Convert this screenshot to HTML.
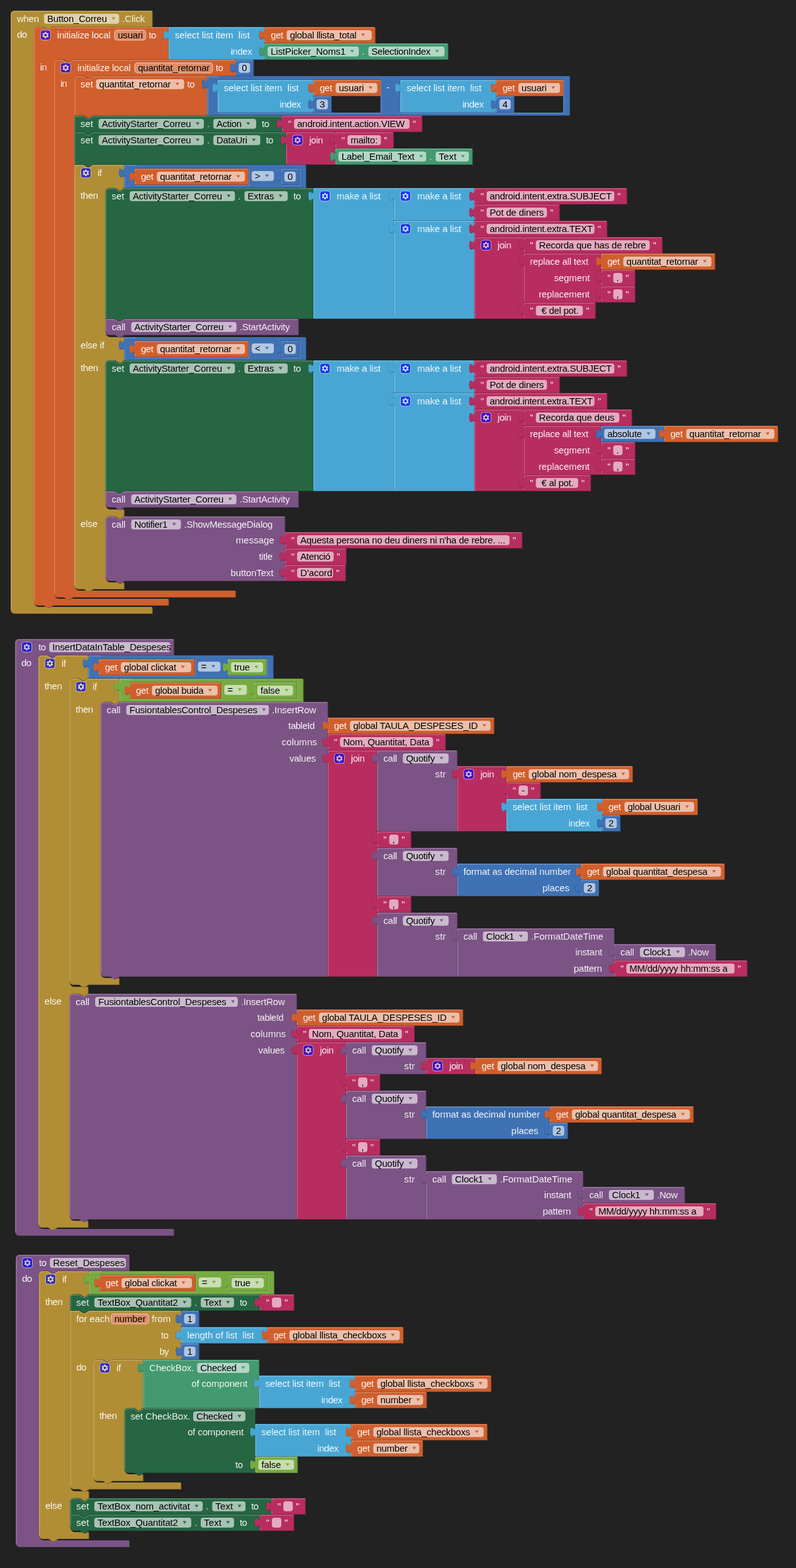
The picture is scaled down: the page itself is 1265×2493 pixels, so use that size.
<!DOCTYPE html>
<html lang="ca"><head><meta charset="utf-8"><title>Blocks</title>
<style>
html,body{margin:0;padding:0;background:#222222;}
body{width:1265px;height:2493px;overflow:hidden;}
svg{display:block;}
text{font-family:"Liberation Sans",sans-serif;font-size:15px;fill:#fff;white-space:pre;stroke-width:.15px;paint-order:fill stroke;}
text.e{fill:#000;}
.fr{fill:#fff;fill-opacity:.6;}
.fp{fill:#de8f6c;stroke:#e7af96;stroke-width:1.6px;}
.hl{fill:none;stroke-width:1;}
.ic{opacity:.68;}
.ic rect{fill:#00f;stroke:#ddd;stroke-width:1;}
.ic path{fill:#fff;fill-rule:evenodd;}
</style></head><body>
<svg width="1265" height="2493" viewBox="0 0 1265 2493">
<path transform="translate(18,18)" d="M 0,5.5 A 5.5,5.5 0 0,1 5.5,0 H 224.5 H 224.5 v 25 H 66.8 l -6,4 -3,0 -6,-4 h -7 a 8,8 0 0,0 -8,8 v 907 a 8,8 0 0,0 8,8 H 224.5 v 10 H 5.5 a 5.5,5.5 0 0,1 -5.5,-5.5 z" fill="#8d712a"/>
<path transform="translate(17,17)" d="M 0,5.5 A 5.5,5.5 0 0,1 5.5,0 H 224.5 H 224.5 v 25 H 66.8 l -6,4 -3,0 -6,-4 h -7 a 8,8 0 0,0 -8,8 v 907 a 8,8 0 0,0 8,8 H 224.5 v 10 H 5.5 a 5.5,5.5 0 0,1 -5.5,-5.5 z" fill="#B18E35" fill-rule="evenodd"/>
<path transform="translate(17,17)" d="M 1,5.5 A 4.5,4.5 0 0,1 5.5,1 H 224.5" class="hl" stroke="#c8af71"/>
<path transform="translate(17,17)" d="M 1,5.5 V 952.5" class="hl" stroke="#c8af71"/>
<path transform="translate(25,1017)" d="M 0,5.5 A 5.5,5.5 0 0,1 5.5,0 H 251.7 H 251.7 v 25 H 66.8 l -6,4 -3,0 -6,-4 h -7 a 8,8 0 0,0 -8,8 v 897 a 8,8 0 0,0 8,8 H 251.7 v 10 H 5.5 a 5.5,5.5 0 0,1 -5.5,-5.5 z" fill="#63426a"/>
<path transform="translate(24,1016)" d="M 0,5.5 A 5.5,5.5 0 0,1 5.5,0 H 251.7 H 251.7 v 25 H 66.8 l -6,4 -3,0 -6,-4 h -7 a 8,8 0 0,0 -8,8 v 897 a 8,8 0 0,0 8,8 H 251.7 v 10 H 5.5 a 5.5,5.5 0 0,1 -5.5,-5.5 z" fill="#7C5385" fill-rule="evenodd"/>
<path transform="translate(24,1016)" d="M 1,5.5 A 4.5,4.5 0 0,1 5.5,1 H 251.7" class="hl" stroke="#a386a9"/>
<path transform="translate(24,1016)" d="M 1,5.5 V 942.5" class="hl" stroke="#a386a9"/>
<path transform="translate(26.1,1996)" d="M 0,5.5 A 5.5,5.5 0 0,1 5.5,0 H 179.9 H 179.9 v 25 H 66.8 l -6,4 -3,0 -6,-4 h -7 a 8,8 0 0,0 -8,8 v 413 a 8,8 0 0,0 8,8 H 179.9 v 10 H 5.5 a 5.5,5.5 0 0,1 -5.5,-5.5 z" fill="#63426a"/>
<path transform="translate(25.1,1995)" d="M 0,5.5 A 5.5,5.5 0 0,1 5.5,0 H 179.9 H 179.9 v 25 H 66.8 l -6,4 -3,0 -6,-4 h -7 a 8,8 0 0,0 -8,8 v 413 a 8,8 0 0,0 8,8 H 179.9 v 10 H 5.5 a 5.5,5.5 0 0,1 -5.5,-5.5 z" fill="#7C5385" fill-rule="evenodd"/>
<path transform="translate(25.1,1995)" d="M 1,5.5 A 4.5,4.5 0 0,1 5.5,1 H 179.9" class="hl" stroke="#a386a9"/>
<path transform="translate(25.1,1995)" d="M 1,5.5 V 458.5" class="hl" stroke="#a386a9"/>
<path transform="translate(54.8,44)" d="M 0,5.5 A 5.5,5.5 0 0,1 5.5,0 H 15 l 6,4 3,0 6,-4 H 213.64 H 213.64 v 5 c 0,10 -8,-8 -8,7.5 s 8,-2.5 8,7.5 v 31 H 62.1 l -6,4 -3,0 -6,-4 h -7 a 8,8 0 0,0 -8,8 v 842 a 8,8 0 0,0 8,8 H 213.64 v 10 H 30 l -6,4 -3,0 -6,-4 H 5.5 a 5.5,5.5 0 0,1 -5.5,-5.5 z" fill="#a64c24"/>
<path transform="translate(53.8,43)" d="M 0,5.5 A 5.5,5.5 0 0,1 5.5,0 H 15 l 6,4 3,0 6,-4 H 213.64 H 213.64 v 5 c 0,10 -8,-8 -8,7.5 s 8,-2.5 8,7.5 v 31 H 62.1 l -6,4 -3,0 -6,-4 h -7 a 8,8 0 0,0 -8,8 v 842 a 8,8 0 0,0 8,8 H 213.64 v 10 H 30 l -6,4 -3,0 -6,-4 H 5.5 a 5.5,5.5 0 0,1 -5.5,-5.5 z" fill="#D05F2D" fill-rule="evenodd"/>
<path transform="translate(53.8,43)" d="M 1,5.5 A 4.5,4.5 0 0,1 5.5,1 H 15 l 6,4 3,0 6,-4 H 213.64" class="hl" stroke="#de8f6c"/>
<path transform="translate(53.8,43)" d="M 1,5.5 V 913.5" class="hl" stroke="#de8f6c"/>
<path transform="translate(61.8,1043)" d="M 0,5.5 A 5.5,5.5 0 0,1 5.5,0 H 15 l 6,4 3,0 6,-4 H 78.7 H 78.7 v 5 c 0,10 -8,-8 -8,7.5 s 8,-2.5 8,7.5 v 16 H 79.4 l -6,4 -3,0 -6,-4 h -7 a 8,8 0 0,0 -8,8 v 475 a 8,8 0 0,0 8,8 H 78.7 v 10 H 79.4 l -6,4 -3,0 -6,-4 h -7 a 8,8 0 0,0 -8,8 v 346 a 8,8 0 0,0 8,8 H 78.7 v 10 H 30 l -6,4 -3,0 -6,-4 H 5.5 a 5.5,5.5 0 0,1 -5.5,-5.5 z" fill="#8d712a"/>
<path transform="translate(60.8,1042)" d="M 0,5.5 A 5.5,5.5 0 0,1 5.5,0 H 15 l 6,4 3,0 6,-4 H 78.7 H 78.7 v 5 c 0,10 -8,-8 -8,7.5 s 8,-2.5 8,7.5 v 16 H 79.4 l -6,4 -3,0 -6,-4 h -7 a 8,8 0 0,0 -8,8 v 475 a 8,8 0 0,0 8,8 H 78.7 v 10 H 79.4 l -6,4 -3,0 -6,-4 h -7 a 8,8 0 0,0 -8,8 v 346 a 8,8 0 0,0 8,8 H 78.7 v 10 H 30 l -6,4 -3,0 -6,-4 H 5.5 a 5.5,5.5 0 0,1 -5.5,-5.5 z" fill="#B18E35" fill-rule="evenodd"/>
<path transform="translate(60.8,1042)" d="M 1,5.5 A 4.5,4.5 0 0,1 5.5,1 H 15 l 6,4 3,0 6,-4 H 78.7" class="hl" stroke="#c8af71"/>
<path transform="translate(60.8,1042)" d="M 1,5.5 V 903.5" class="hl" stroke="#c8af71"/>
<path transform="translate(62.9,2022)" d="M 0,5.5 A 5.5,5.5 0 0,1 5.5,0 H 15 l 6,4 3,0 6,-4 H 78.7 H 78.7 v 5 c 0,10 -8,-8 -8,7.5 s 8,-2.5 8,7.5 v 16 H 79.4 l -6,4 -3,0 -6,-4 h -7 a 8,8 0 0,0 -8,8 v 298 a 8,8 0 0,0 8,8 H 78.7 v 10 H 79.4 l -6,4 -3,0 -6,-4 h -7 a 8,8 0 0,0 -8,8 v 39 a 8,8 0 0,0 8,8 H 78.7 v 10 H 30 l -6,4 -3,0 -6,-4 H 5.5 a 5.5,5.5 0 0,1 -5.5,-5.5 z" fill="#8d712a"/>
<path transform="translate(61.9,2021)" d="M 0,5.5 A 5.5,5.5 0 0,1 5.5,0 H 15 l 6,4 3,0 6,-4 H 78.7 H 78.7 v 5 c 0,10 -8,-8 -8,7.5 s 8,-2.5 8,7.5 v 16 H 79.4 l -6,4 -3,0 -6,-4 h -7 a 8,8 0 0,0 -8,8 v 298 a 8,8 0 0,0 8,8 H 78.7 v 10 H 79.4 l -6,4 -3,0 -6,-4 h -7 a 8,8 0 0,0 -8,8 v 39 a 8,8 0 0,0 8,8 H 78.7 v 10 H 30 l -6,4 -3,0 -6,-4 H 5.5 a 5.5,5.5 0 0,1 -5.5,-5.5 z" fill="#B18E35" fill-rule="evenodd"/>
<path transform="translate(61.9,2021)" d="M 1,5.5 A 4.5,4.5 0 0,1 5.5,1 H 15 l 6,4 3,0 6,-4 H 78.7" class="hl" stroke="#c8af71"/>
<path transform="translate(61.9,2021)" d="M 1,5.5 V 419.5" class="hl" stroke="#c8af71"/>
<path transform="translate(268.94,44)" d="M 0,0 H 151.8 H 151.8 v 5 c 0,10 -8,-8 -8,7.5 s 8,-2.5 8,7.5 v 6 H 151.8 v 5 c 0,10 -8,-8 -8,7.5 s 8,-2.5 8,7.5 v 5 H 0 V 20 c 0,-10 -8,8 -8,-7.5 s 8,2.5 8,-7.5 z" fill="#3a84a9"/>
<path transform="translate(267.94,43)" d="M 0,0 H 151.8 H 151.8 v 5 c 0,10 -8,-8 -8,7.5 s 8,-2.5 8,7.5 v 6 H 151.8 v 5 c 0,10 -8,-8 -8,7.5 s 8,-2.5 8,7.5 v 5 H 0 V 20 c 0,-10 -8,8 -8,-7.5 s 8,2.5 8,-7.5 z" fill="#49A6D4" fill-rule="evenodd"/>
<path transform="translate(267.94,43)" d="M 1,1 H 151.8" class="hl" stroke="#7fc0e0"/>
<path transform="translate(267.94,43)" d="M 1,51 V 20 M 1,5 V 1" class="hl" stroke="#7fc0e0"/>
<path transform="translate(86.9,96)" d="M 0,5.5 A 5.5,5.5 0 0,1 5.5,0 H 15 l 6,4 3,0 6,-4 H 287.84 H 287.84 v 5 c 0,10 -8,-8 -8,7.5 s 8,-2.5 8,7.5 v 5 H 62.1 l -6,4 -3,0 -6,-4 h -7 a 8,8 0 0,0 -8,8 v 803 a 8,8 0 0,0 8,8 H 287.84 v 10 H 30 l -6,4 -3,0 -6,-4 H 5.5 a 5.5,5.5 0 0,1 -5.5,-5.5 z" fill="#a64c24"/>
<path transform="translate(85.9,95)" d="M 0,5.5 A 5.5,5.5 0 0,1 5.5,0 H 15 l 6,4 3,0 6,-4 H 287.84 H 287.84 v 5 c 0,10 -8,-8 -8,7.5 s 8,-2.5 8,7.5 v 5 H 62.1 l -6,4 -3,0 -6,-4 h -7 a 8,8 0 0,0 -8,8 v 803 a 8,8 0 0,0 8,8 H 287.84 v 10 H 30 l -6,4 -3,0 -6,-4 H 5.5 a 5.5,5.5 0 0,1 -5.5,-5.5 z" fill="#D05F2D" fill-rule="evenodd"/>
<path transform="translate(85.9,95)" d="M 1,5.5 A 4.5,4.5 0 0,1 5.5,1 H 15 l 6,4 3,0 6,-4 H 287.84" class="hl" stroke="#de8f6c"/>
<path transform="translate(85.9,95)" d="M 1,5.5 V 848.5" class="hl" stroke="#de8f6c"/>
<path transform="translate(141,1043)" d="M 0,0 H 20 H 293.79 v 36 H 0 V 20 c 0,-10 -8,8 -8,-7.5 s 8,2.5 8,-7.5 z M 169.59,5 h -152.89 v 1 v 5 c 0,10 -8,-8 -8,7.5 s 8,-2.5 8,7.5 v 6 h 152.89 z M 283.79,5 h -61.7 v 1 v 5 c 0,10 -8,-8 -8,7.5 s 8,-2.5 8,7.5 v 6 h 61.7 z" fill="#325a90"/>
<path transform="translate(140,1042)" d="M 0,0 H 20 H 293.79 v 36 H 0 V 20 c 0,-10 -8,8 -8,-7.5 s 8,2.5 8,-7.5 z M 169.59,5 h -152.89 v 1 v 5 c 0,10 -8,-8 -8,7.5 s 8,-2.5 8,7.5 v 6 h 152.89 z M 283.79,5 h -61.7 v 1 v 5 c 0,10 -8,-8 -8,7.5 s 8,-2.5 8,7.5 v 6 h 61.7 z" fill="#3F71B5" fill-rule="evenodd"/>
<path transform="translate(140,1042)" d="M 1,1 H 20" class="hl" stroke="#789bcb"/>
<path transform="translate(140,1042)" d="M 1,36 V 20 M 1,5 V 1" class="hl" stroke="#789bcb"/>
<path transform="translate(111.2,1080)" d="M 0,5.5 A 5.5,5.5 0 0,1 5.5,0 H 15 l 6,4 3,0 6,-4 H 78.7 H 78.7 v 5 c 0,10 -8,-8 -8,7.5 s 8,-2.5 8,7.5 v 16 H 79.4 l -6,4 -3,0 -6,-4 h -7 a 8,8 0 0,0 -8,8 v 424 a 8,8 0 0,0 8,8 H 78.7 v 10 H 30 l -6,4 -3,0 -6,-4 H 5.5 a 5.5,5.5 0 0,1 -5.5,-5.5 z" fill="#8d712a"/>
<path transform="translate(110.2,1079)" d="M 0,5.5 A 5.5,5.5 0 0,1 5.5,0 H 15 l 6,4 3,0 6,-4 H 78.7 H 78.7 v 5 c 0,10 -8,-8 -8,7.5 s 8,-2.5 8,7.5 v 16 H 79.4 l -6,4 -3,0 -6,-4 h -7 a 8,8 0 0,0 -8,8 v 424 a 8,8 0 0,0 8,8 H 78.7 v 10 H 30 l -6,4 -3,0 -6,-4 H 5.5 a 5.5,5.5 0 0,1 -5.5,-5.5 z" fill="#B18E35" fill-rule="evenodd"/>
<path transform="translate(110.2,1079)" d="M 1,5.5 A 4.5,4.5 0 0,1 5.5,1 H 15 l 6,4 3,0 6,-4 H 78.7" class="hl" stroke="#c8af71"/>
<path transform="translate(110.2,1079)" d="M 1,5.5 V 480.5" class="hl" stroke="#c8af71"/>
<path transform="translate(111.2,1581)" d="M 0,5.5 A 5.5,5.5 0 0,1 5.5,0 H 15 l 6,4 3,0 6,-4 H 360.73 H 360.73 v 25 H 360.73 v 5 c 0,10 -8,-8 -8,7.5 s 8,-2.5 8,7.5 v 6 H 360.73 v 5 c 0,10 -8,-8 -8,7.5 s 8,-2.5 8,7.5 v 6 H 360.73 v 5 c 0,10 -8,-8 -8,7.5 s 8,-2.5 8,7.5 v 261 H 30 l -6,4 -3,0 -6,-4 H 5.5 a 5.5,5.5 0 0,1 -5.5,-5.5 z" fill="#63426a"/>
<path transform="translate(110.2,1580)" d="M 0,5.5 A 5.5,5.5 0 0,1 5.5,0 H 15 l 6,4 3,0 6,-4 H 360.73 H 360.73 v 25 H 360.73 v 5 c 0,10 -8,-8 -8,7.5 s 8,-2.5 8,7.5 v 6 H 360.73 v 5 c 0,10 -8,-8 -8,7.5 s 8,-2.5 8,7.5 v 6 H 360.73 v 5 c 0,10 -8,-8 -8,7.5 s 8,-2.5 8,7.5 v 261 H 30 l -6,4 -3,0 -6,-4 H 5.5 a 5.5,5.5 0 0,1 -5.5,-5.5 z" fill="#7C5385" fill-rule="evenodd"/>
<path transform="translate(110.2,1580)" d="M 1,5.5 A 4.5,4.5 0 0,1 5.5,1 H 15 l 6,4 3,0 6,-4 H 360.73" class="hl" stroke="#a386a9"/>
<path transform="translate(110.2,1580)" d="M 1,5.5 V 352.5" class="hl" stroke="#a386a9"/>
<path transform="translate(142.1,2022)" d="M 0,0 H 20 H 293.79 v 36 H 0 V 20 c 0,-10 -8,8 -8,-7.5 s 8,2.5 8,-7.5 z M 169.59,5 h -152.89 v 1 v 5 c 0,10 -8,-8 -8,7.5 s 8,-2.5 8,7.5 v 6 h 152.89 z M 283.79,5 h -61.7 v 1 v 5 c 0,10 -8,-8 -8,7.5 s 8,-2.5 8,7.5 v 6 h 61.7 z" fill="#5f8834"/>
<path transform="translate(141.1,2021)" d="M 0,0 H 20 H 293.79 v 36 H 0 V 20 c 0,-10 -8,8 -8,-7.5 s 8,2.5 8,-7.5 z M 169.59,5 h -152.89 v 1 v 5 c 0,10 -8,-8 -8,7.5 s 8,-2.5 8,7.5 v 6 h 152.89 z M 283.79,5 h -61.7 v 1 v 5 c 0,10 -8,-8 -8,7.5 s 8,-2.5 8,7.5 v 6 h 61.7 z" fill="#77AB41" fill-rule="evenodd"/>
<path transform="translate(141.1,2021)" d="M 1,1 H 20" class="hl" stroke="#9fc47a"/>
<path transform="translate(141.1,2021)" d="M 1,36 V 20 M 1,5 V 1" class="hl" stroke="#9fc47a"/>
<path transform="translate(112.3,2059)" d="M 0,5.5 A 5.5,5.5 0 0,1 5.5,0 H 15 l 6,4 3,0 6,-4 H 300.94 H 300.94 v 5 c 0,10 -8,-8 -8,7.5 s 8,-2.5 8,7.5 v 5 H 30 l -6,4 -3,0 -6,-4 H 0 z" fill="#1e5135"/>
<path transform="translate(111.3,2058)" d="M 0,5.5 A 5.5,5.5 0 0,1 5.5,0 H 15 l 6,4 3,0 6,-4 H 300.94 H 300.94 v 5 c 0,10 -8,-8 -8,7.5 s 8,-2.5 8,7.5 v 5 H 30 l -6,4 -3,0 -6,-4 H 0 z" fill="#266643" fill-rule="evenodd"/>
<path transform="translate(111.3,2058)" d="M 1,5.5 A 4.5,4.5 0 0,1 5.5,1 H 15 l 6,4 3,0 6,-4 H 300.94" class="hl" stroke="#67937b"/>
<path transform="translate(111.3,2058)" d="M 1,5.5 V 25" class="hl" stroke="#67937b"/>
<path transform="translate(112.3,2085)" d="M 0,0 H 15 l 6,4 3,0 6,-4 H 175.8 H 175.8 v 5 c 0,10 -8,-8 -8,7.5 s 8,-2.5 8,7.5 v 6 H 175.8 v 5 c 0,10 -8,-8 -8,7.5 s 8,-2.5 8,7.5 v 6 H 175.8 v 5 c 0,10 -8,-8 -8,7.5 s 8,-2.5 8,7.5 v 5 H 66.8 l -6,4 -3,0 -6,-4 h -7 a 8,8 0 0,0 -8,8 v 180 a 8,8 0 0,0 8,8 H 175.8 v 10 H 30 l -6,4 -3,0 -6,-4 H 5.5 a 5.5,5.5 0 0,1 -5.5,-5.5 z" fill="#8d712a"/>
<path transform="translate(111.3,2084)" d="M 0,0 H 15 l 6,4 3,0 6,-4 H 175.8 H 175.8 v 5 c 0,10 -8,-8 -8,7.5 s 8,-2.5 8,7.5 v 6 H 175.8 v 5 c 0,10 -8,-8 -8,7.5 s 8,-2.5 8,7.5 v 6 H 175.8 v 5 c 0,10 -8,-8 -8,7.5 s 8,-2.5 8,7.5 v 5 H 66.8 l -6,4 -3,0 -6,-4 h -7 a 8,8 0 0,0 -8,8 v 180 a 8,8 0 0,0 8,8 H 175.8 v 10 H 30 l -6,4 -3,0 -6,-4 H 5.5 a 5.5,5.5 0 0,1 -5.5,-5.5 z" fill="#B18E35" fill-rule="evenodd"/>
<path transform="translate(111.3,2084)" d="M 1,1 H 15 l 6,4 3,0 6,-4 H 175.8" class="hl" stroke="#c8af71"/>
<path transform="translate(111.3,2084)" d="M 1,1 V 277.5" class="hl" stroke="#c8af71"/>
<path transform="translate(112.3,2383)" d="M 0,5.5 A 5.5,5.5 0 0,1 5.5,0 H 15 l 6,4 3,0 6,-4 H 319.13 H 319.13 v 5 c 0,10 -8,-8 -8,7.5 s 8,-2.5 8,7.5 v 5 H 30 l -6,4 -3,0 -6,-4 H 0 z" fill="#1e5135"/>
<path transform="translate(111.3,2382)" d="M 0,5.5 A 5.5,5.5 0 0,1 5.5,0 H 15 l 6,4 3,0 6,-4 H 319.13 H 319.13 v 5 c 0,10 -8,-8 -8,7.5 s 8,-2.5 8,7.5 v 5 H 30 l -6,4 -3,0 -6,-4 H 0 z" fill="#266643" fill-rule="evenodd"/>
<path transform="translate(111.3,2382)" d="M 1,5.5 A 4.5,4.5 0 0,1 5.5,1 H 15 l 6,4 3,0 6,-4 H 319.13" class="hl" stroke="#67937b"/>
<path transform="translate(111.3,2382)" d="M 1,5.5 V 25" class="hl" stroke="#67937b"/>
<path transform="translate(112.3,2409)" d="M 0,0 H 15 l 6,4 3,0 6,-4 H 300.94 H 300.94 v 5 c 0,10 -8,-8 -8,7.5 s 8,-2.5 8,7.5 v 5 H 30 l -6,4 -3,0 -6,-4 H 5.5 a 5.5,5.5 0 0,1 -5.5,-5.5 z" fill="#1e5135"/>
<path transform="translate(111.3,2408)" d="M 0,0 H 15 l 6,4 3,0 6,-4 H 300.94 H 300.94 v 5 c 0,10 -8,-8 -8,7.5 s 8,-2.5 8,7.5 v 5 H 30 l -6,4 -3,0 -6,-4 H 5.5 a 5.5,5.5 0 0,1 -5.5,-5.5 z" fill="#266643" fill-rule="evenodd"/>
<path transform="translate(111.3,2408)" d="M 1,1 H 15 l 6,4 3,0 6,-4 H 300.94" class="hl" stroke="#67937b"/>
<path transform="translate(111.3,2408)" d="M 1,1 V 19.5" class="hl" stroke="#67937b"/>
<path transform="translate(421.24,44)" d="M 0,0 H 175.49 H 175.49 v 25 H 0 V 20 c 0,-10 -8,8 -8,-7.5 s 8,2.5 8,-7.5 z" fill="#a64c24"/>
<path transform="translate(420.24,43)" d="M 0,0 H 175.49 H 175.49 v 25 H 0 V 20 c 0,-10 -8,8 -8,-7.5 s 8,2.5 8,-7.5 z" fill="#D05F2D" fill-rule="evenodd"/>
<path transform="translate(420.24,43)" d="M 1,1 H 175.49" class="hl" stroke="#de8f6c"/>
<path transform="translate(420.24,43)" d="M 1,25 V 20 M 1,5 V 1" class="hl" stroke="#de8f6c"/>
<path transform="translate(421.24,70)" d="M 0,0 H 291.2 H 291.2 v 25 H 0 V 20 c 0,-10 -8,8 -8,-7.5 s 8,2.5 8,-7.5 z" fill="#357a59"/>
<path transform="translate(420.24,69)" d="M 0,0 H 291.2 H 291.2 v 25 H 0 V 20 c 0,-10 -8,8 -8,-7.5 s 8,2.5 8,-7.5 z" fill="#439970" fill-rule="evenodd"/>
<path transform="translate(420.24,69)" d="M 1,1 H 291.2" class="hl" stroke="#7bb79a"/>
<path transform="translate(420.24,69)" d="M 1,25 V 20 M 1,5 V 1" class="hl" stroke="#7bb79a"/>
<path transform="translate(375.24,96)" d="M 0,0 H 28.16 H 28.16 v 25 H 0 V 20 c 0,-10 -8,8 -8,-7.5 s 8,2.5 8,-7.5 z" fill="#325a90"/>
<path transform="translate(374.24,95)" d="M 0,0 H 28.16 H 28.16 v 25 H 0 V 20 c 0,-10 -8,8 -8,-7.5 s 8,2.5 8,-7.5 z" fill="#3F71B5" fill-rule="evenodd"/>
<path transform="translate(374.24,95)" d="M 1,1 H 28.16" class="hl" stroke="#789bcb"/>
<path transform="translate(374.24,95)" d="M 1,25 V 20 M 1,5 V 1" class="hl" stroke="#789bcb"/>
<path transform="translate(119,122)" d="M 0,5.5 A 5.5,5.5 0 0,1 5.5,0 H 15 l 6,4 3,0 6,-4 H 210.56 H 210.56 v 5 c 0,10 -8,-8 -8,7.5 s 8,-2.5 8,7.5 v 42 H 30 l -6,4 -3,0 -6,-4 H 0 z" fill="#a64c24"/>
<path transform="translate(118,121)" d="M 0,5.5 A 5.5,5.5 0 0,1 5.5,0 H 15 l 6,4 3,0 6,-4 H 210.56 H 210.56 v 5 c 0,10 -8,-8 -8,7.5 s 8,-2.5 8,7.5 v 42 H 30 l -6,4 -3,0 -6,-4 H 0 z" fill="#D05F2D" fill-rule="evenodd"/>
<path transform="translate(118,121)" d="M 1,5.5 A 4.5,4.5 0 0,1 5.5,1 H 15 l 6,4 3,0 6,-4 H 210.56" class="hl" stroke="#de8f6c"/>
<path transform="translate(118,121)" d="M 1,5.5 V 62" class="hl" stroke="#de8f6c"/>
<path transform="translate(119,185)" d="M 0,0 H 15 l 6,4 3,0 6,-4 H 329.34 H 329.34 v 5 c 0,10 -8,-8 -8,7.5 s 8,-2.5 8,7.5 v 5 H 30 l -6,4 -3,0 -6,-4 H 0 z" fill="#1e5135"/>
<path transform="translate(118,184)" d="M 0,0 H 15 l 6,4 3,0 6,-4 H 329.34 H 329.34 v 5 c 0,10 -8,-8 -8,7.5 s 8,-2.5 8,7.5 v 5 H 30 l -6,4 -3,0 -6,-4 H 0 z" fill="#266643" fill-rule="evenodd"/>
<path transform="translate(118,184)" d="M 1,1 H 15 l 6,4 3,0 6,-4 H 329.34" class="hl" stroke="#67937b"/>
<path transform="translate(118,184)" d="M 1,1 V 25" class="hl" stroke="#67937b"/>
<path transform="translate(119,211)" d="M 0,0 H 15 l 6,4 3,0 6,-4 H 335.94 H 335.94 v 5 c 0,10 -8,-8 -8,7.5 s 8,-2.5 8,7.5 v 31 H 30 l -6,4 -3,0 -6,-4 H 0 z" fill="#1e5135"/>
<path transform="translate(118,210)" d="M 0,0 H 15 l 6,4 3,0 6,-4 H 335.94 H 335.94 v 5 c 0,10 -8,-8 -8,7.5 s 8,-2.5 8,7.5 v 31 H 30 l -6,4 -3,0 -6,-4 H 0 z" fill="#266643" fill-rule="evenodd"/>
<path transform="translate(118,210)" d="M 1,1 H 15 l 6,4 3,0 6,-4 H 335.94" class="hl" stroke="#67937b"/>
<path transform="translate(118,210)" d="M 1,1 V 51" class="hl" stroke="#67937b"/>
<path transform="translate(119,263)" d="M 0,0 H 15 l 6,4 3,0 6,-4 H 78.7 H 78.7 v 5 c 0,10 -8,-8 -8,7.5 s 8,-2.5 8,7.5 v 16 H 79.4 l -6,4 -3,0 -6,-4 h -7 a 8,8 0 0,0 -8,8 v 222 a 8,8 0 0,0 8,8 H 78.7 H 78.7 v 5 c 0,10 -8,-8 -8,7.5 s 8,-2.5 8,7.5 v 16 H 79.4 l -6,4 -3,0 -6,-4 h -7 a 8,8 0 0,0 -8,8 v 222 a 8,8 0 0,0 8,8 H 78.7 v 10 H 79.4 l -6,4 -3,0 -6,-4 h -7 a 8,8 0 0,0 -8,8 v 90 a 8,8 0 0,0 8,8 H 78.7 v 10 H 30 l -6,4 -3,0 -6,-4 H 5.5 a 5.5,5.5 0 0,1 -5.5,-5.5 z" fill="#8d712a"/>
<path transform="translate(118,262)" d="M 0,0 H 15 l 6,4 3,0 6,-4 H 78.7 H 78.7 v 5 c 0,10 -8,-8 -8,7.5 s 8,-2.5 8,7.5 v 16 H 79.4 l -6,4 -3,0 -6,-4 h -7 a 8,8 0 0,0 -8,8 v 222 a 8,8 0 0,0 8,8 H 78.7 H 78.7 v 5 c 0,10 -8,-8 -8,7.5 s 8,-2.5 8,7.5 v 16 H 79.4 l -6,4 -3,0 -6,-4 h -7 a 8,8 0 0,0 -8,8 v 222 a 8,8 0 0,0 8,8 H 78.7 v 10 H 79.4 l -6,4 -3,0 -6,-4 h -7 a 8,8 0 0,0 -8,8 v 90 a 8,8 0 0,0 8,8 H 78.7 v 10 H 30 l -6,4 -3,0 -6,-4 H 5.5 a 5.5,5.5 0 0,1 -5.5,-5.5 z" fill="#B18E35" fill-rule="evenodd"/>
<path transform="translate(118,262)" d="M 1,1 H 15 l 6,4 3,0 6,-4 H 78.7" class="hl" stroke="#c8af71"/>
<path transform="translate(118,262)" d="M 1,1 V 668.5" class="hl" stroke="#c8af71"/>
<path transform="translate(157.7,1049)" d="M 0,0 H 152.19 H 152.19 v 25 H 0 V 20 c 0,-10 -8,8 -8,-7.5 s 8,2.5 8,-7.5 z" fill="#a64c24"/>
<path transform="translate(156.7,1048)" d="M 0,0 H 152.19 H 152.19 v 25 H 0 V 20 c 0,-10 -8,8 -8,-7.5 s 8,2.5 8,-7.5 z" fill="#D05F2D" fill-rule="evenodd"/>
<path transform="translate(156.7,1048)" d="M 1,1 H 152.19" class="hl" stroke="#de8f6c"/>
<path transform="translate(156.7,1048)" d="M 1,25 V 20 M 1,5 V 1" class="hl" stroke="#de8f6c"/>
<path transform="translate(363.09,1049)" d="M 0,0 H 61 H 61 v 25 H 0 V 20 c 0,-10 -8,8 -8,-7.5 s 8,2.5 8,-7.5 z" fill="#5f8834"/>
<path transform="translate(362.09,1048)" d="M 0,0 H 61 H 61 v 25 H 0 V 20 c 0,-10 -8,8 -8,-7.5 s 8,2.5 8,-7.5 z" fill="#77AB41" fill-rule="evenodd"/>
<path transform="translate(362.09,1048)" d="M 1,1 H 61" class="hl" stroke="#9fc47a"/>
<path transform="translate(362.09,1048)" d="M 1,25 V 20 M 1,5 V 1" class="hl" stroke="#9fc47a"/>
<path transform="translate(190.4,1080)" d="M 0,0 H 20 H 291.99 v 36 H 0 V 20 c 0,-10 -8,8 -8,-7.5 s 8,2.5 8,-7.5 z M 162.09,5 h -145.39 v 1 v 5 c 0,10 -8,-8 -8,7.5 s 8,-2.5 8,7.5 v 6 h 145.39 z M 281.99,5 h -67.4 v 1 v 5 c 0,10 -8,-8 -8,7.5 s 8,-2.5 8,7.5 v 6 h 67.4 z" fill="#5f8834"/>
<path transform="translate(189.4,1079)" d="M 0,0 H 20 H 291.99 v 36 H 0 V 20 c 0,-10 -8,8 -8,-7.5 s 8,2.5 8,-7.5 z M 162.09,5 h -145.39 v 1 v 5 c 0,10 -8,-8 -8,7.5 s 8,-2.5 8,7.5 v 6 h 145.39 z M 281.99,5 h -67.4 v 1 v 5 c 0,10 -8,-8 -8,7.5 s 8,-2.5 8,7.5 v 6 h 67.4 z" fill="#77AB41" fill-rule="evenodd"/>
<path transform="translate(189.4,1079)" d="M 1,1 H 20" class="hl" stroke="#9fc47a"/>
<path transform="translate(189.4,1079)" d="M 1,36 V 20 M 1,5 V 1" class="hl" stroke="#9fc47a"/>
<path transform="translate(160.6,1117)" d="M 0,5.5 A 5.5,5.5 0 0,1 5.5,0 H 15 l 6,4 3,0 6,-4 H 360.73 H 360.73 v 25 H 360.73 v 5 c 0,10 -8,-8 -8,7.5 s 8,-2.5 8,7.5 v 6 H 360.73 v 5 c 0,10 -8,-8 -8,7.5 s 8,-2.5 8,7.5 v 6 H 360.73 v 5 c 0,10 -8,-8 -8,7.5 s 8,-2.5 8,7.5 v 339 H 30 l -6,4 -3,0 -6,-4 H 5.5 a 5.5,5.5 0 0,1 -5.5,-5.5 z" fill="#63426a"/>
<path transform="translate(159.6,1116)" d="M 0,5.5 A 5.5,5.5 0 0,1 5.5,0 H 15 l 6,4 3,0 6,-4 H 360.73 H 360.73 v 25 H 360.73 v 5 c 0,10 -8,-8 -8,7.5 s 8,-2.5 8,7.5 v 6 H 360.73 v 5 c 0,10 -8,-8 -8,7.5 s 8,-2.5 8,7.5 v 6 H 360.73 v 5 c 0,10 -8,-8 -8,7.5 s 8,-2.5 8,7.5 v 339 H 30 l -6,4 -3,0 -6,-4 H 5.5 a 5.5,5.5 0 0,1 -5.5,-5.5 z" fill="#7C5385" fill-rule="evenodd"/>
<path transform="translate(159.6,1116)" d="M 1,5.5 A 4.5,4.5 0 0,1 5.5,1 H 15 l 6,4 3,0 6,-4 H 360.73" class="hl" stroke="#a386a9"/>
<path transform="translate(159.6,1116)" d="M 1,5.5 V 430.5" class="hl" stroke="#a386a9"/>
<path transform="translate(472.43,1606)" d="M 0,0 H 263.69 H 263.69 v 25 H 0 V 20 c 0,-10 -8,8 -8,-7.5 s 8,2.5 8,-7.5 z" fill="#a64c24"/>
<path transform="translate(471.43,1605)" d="M 0,0 H 263.69 H 263.69 v 25 H 0 V 20 c 0,-10 -8,8 -8,-7.5 s 8,2.5 8,-7.5 z" fill="#D05F2D" fill-rule="evenodd"/>
<path transform="translate(471.43,1605)" d="M 1,1 H 263.69" class="hl" stroke="#de8f6c"/>
<path transform="translate(471.43,1605)" d="M 1,25 V 20 M 1,5 V 1" class="hl" stroke="#de8f6c"/>
<path transform="translate(472.43,1632)" d="M 0,0 H 186.6 H 186.6 v 25 H 0 V 20 c 0,-10 -8,8 -8,-7.5 s 8,2.5 8,-7.5 z" fill="#93244c"/>
<path transform="translate(471.43,1631)" d="M 0,0 H 186.6 H 186.6 v 25 H 0 V 20 c 0,-10 -8,8 -8,-7.5 s 8,2.5 8,-7.5 z" fill="#B82D5F" fill-rule="evenodd"/>
<path transform="translate(471.43,1631)" d="M 1,1 H 186.6" class="hl" stroke="#cd6c8f"/>
<path transform="translate(471.43,1631)" d="M 1,25 V 20 M 1,5 V 1" class="hl" stroke="#cd6c8f"/>
<path transform="translate(472.43,1658)" d="M 0,0 H 77.81 H 77.81 v 5 c 0,10 -8,-8 -8,7.5 s 8,-2.5 8,7.5 v 31 H 77.81 v 5 c 0,10 -8,-8 -8,7.5 s 8,-2.5 8,7.5 v 6 H 77.81 v 5 c 0,10 -8,-8 -8,7.5 s 8,-2.5 8,7.5 v 57 H 77.81 v 5 c 0,10 -8,-8 -8,7.5 s 8,-2.5 8,7.5 v 6 H 77.81 v 5 c 0,10 -8,-8 -8,7.5 s 8,-2.5 8,7.5 v 81 H 0 V 20 c 0,-10 -8,8 -8,-7.5 s 8,2.5 8,-7.5 z" fill="#93244c"/>
<path transform="translate(471.43,1657)" d="M 0,0 H 77.81 H 77.81 v 5 c 0,10 -8,-8 -8,7.5 s 8,-2.5 8,7.5 v 31 H 77.81 v 5 c 0,10 -8,-8 -8,7.5 s 8,-2.5 8,7.5 v 6 H 77.81 v 5 c 0,10 -8,-8 -8,7.5 s 8,-2.5 8,7.5 v 57 H 77.81 v 5 c 0,10 -8,-8 -8,7.5 s 8,-2.5 8,7.5 v 6 H 77.81 v 5 c 0,10 -8,-8 -8,7.5 s 8,-2.5 8,7.5 v 81 H 0 V 20 c 0,-10 -8,8 -8,-7.5 s 8,2.5 8,-7.5 z" fill="#B82D5F" fill-rule="evenodd"/>
<path transform="translate(471.43,1657)" d="M 1,1 H 77.81" class="hl" stroke="#cd6c8f"/>
<path transform="translate(471.43,1657)" d="M 1,281 V 20 M 1,5 V 1" class="hl" stroke="#cd6c8f"/>
<path transform="translate(158.8,2028)" d="M 0,0 H 152.19 H 152.19 v 25 H 0 V 20 c 0,-10 -8,8 -8,-7.5 s 8,2.5 8,-7.5 z" fill="#a64c24"/>
<path transform="translate(157.8,2027)" d="M 0,0 H 152.19 H 152.19 v 25 H 0 V 20 c 0,-10 -8,8 -8,-7.5 s 8,2.5 8,-7.5 z" fill="#D05F2D" fill-rule="evenodd"/>
<path transform="translate(157.8,2027)" d="M 1,1 H 152.19" class="hl" stroke="#de8f6c"/>
<path transform="translate(157.8,2027)" d="M 1,25 V 20 M 1,5 V 1" class="hl" stroke="#de8f6c"/>
<path transform="translate(364.19,2028)" d="M 0,0 H 61 H 61 v 25 H 0 V 20 c 0,-10 -8,8 -8,-7.5 s 8,2.5 8,-7.5 z" fill="#5f8834"/>
<path transform="translate(363.19,2027)" d="M 0,0 H 61 H 61 v 25 H 0 V 20 c 0,-10 -8,8 -8,-7.5 s 8,2.5 8,-7.5 z" fill="#77AB41" fill-rule="evenodd"/>
<path transform="translate(363.19,2027)" d="M 1,1 H 61" class="hl" stroke="#9fc47a"/>
<path transform="translate(363.19,2027)" d="M 1,25 V 20 M 1,5 V 1" class="hl" stroke="#9fc47a"/>
<path transform="translate(413.74,2059)" d="M 0,0 H 53.8 H 53.8 v 25 H 0 V 20 c 0,-10 -8,8 -8,-7.5 s 8,2.5 8,-7.5 z" fill="#93244c"/>
<path transform="translate(412.74,2058)" d="M 0,0 H 53.8 H 53.8 v 25 H 0 V 20 c 0,-10 -8,8 -8,-7.5 s 8,2.5 8,-7.5 z" fill="#B82D5F" fill-rule="evenodd"/>
<path transform="translate(412.74,2058)" d="M 1,1 H 53.8" class="hl" stroke="#cd6c8f"/>
<path transform="translate(412.74,2058)" d="M 1,25 V 20 M 1,5 V 1" class="hl" stroke="#cd6c8f"/>
<path transform="translate(288.6,2085)" d="M 0,0 H 28.16 H 28.16 v 25 H 0 V 20 c 0,-10 -8,8 -8,-7.5 s 8,2.5 8,-7.5 z" fill="#325a90"/>
<path transform="translate(287.6,2084)" d="M 0,0 H 28.16 H 28.16 v 25 H 0 V 20 c 0,-10 -8,8 -8,-7.5 s 8,2.5 8,-7.5 z" fill="#3F71B5" fill-rule="evenodd"/>
<path transform="translate(287.6,2084)" d="M 1,1 H 28.16" class="hl" stroke="#789bcb"/>
<path transform="translate(287.6,2084)" d="M 1,25 V 20 M 1,5 V 1" class="hl" stroke="#789bcb"/>
<path transform="translate(288.6,2111)" d="M 0,0 H 136.39 H 136.39 v 5 c 0,10 -8,-8 -8,7.5 s 8,-2.5 8,7.5 v 5 H 0 V 20 c 0,-10 -8,8 -8,-7.5 s 8,2.5 8,-7.5 z" fill="#3a84a9"/>
<path transform="translate(287.6,2110)" d="M 0,0 H 136.39 H 136.39 v 5 c 0,10 -8,-8 -8,7.5 s 8,-2.5 8,7.5 v 5 H 0 V 20 c 0,-10 -8,8 -8,-7.5 s 8,2.5 8,-7.5 z" fill="#49A6D4" fill-rule="evenodd"/>
<path transform="translate(287.6,2110)" d="M 1,1 H 136.39" class="hl" stroke="#7fc0e0"/>
<path transform="translate(287.6,2110)" d="M 1,25 V 20 M 1,5 V 1" class="hl" stroke="#7fc0e0"/>
<path transform="translate(288.6,2137)" d="M 0,0 H 28.16 H 28.16 v 25 H 0 V 20 c 0,-10 -8,8 -8,-7.5 s 8,2.5 8,-7.5 z" fill="#325a90"/>
<path transform="translate(287.6,2136)" d="M 0,0 H 28.16 H 28.16 v 25 H 0 V 20 c 0,-10 -8,8 -8,-7.5 s 8,2.5 8,-7.5 z" fill="#3F71B5" fill-rule="evenodd"/>
<path transform="translate(287.6,2136)" d="M 1,1 H 28.16" class="hl" stroke="#789bcb"/>
<path transform="translate(287.6,2136)" d="M 1,25 V 20 M 1,5 V 1" class="hl" stroke="#789bcb"/>
<path transform="translate(149.1,2163)" d="M 0,5.5 A 5.5,5.5 0 0,1 5.5,0 H 15 l 6,4 3,0 6,-4 H 78.7 H 78.7 v 5 c 0,10 -8,-8 -8,7.5 s 8,-2.5 8,7.5 v 56 H 79.4 l -6,4 -3,0 -6,-4 h -7 a 8,8 0 0,0 -8,8 v 90 a 8,8 0 0,0 8,8 H 78.7 v 10 H 30 l -6,4 -3,0 -6,-4 H 5.5 a 5.5,5.5 0 0,1 -5.5,-5.5 z" fill="#8d712a"/>
<path transform="translate(148.1,2162)" d="M 0,5.5 A 5.5,5.5 0 0,1 5.5,0 H 15 l 6,4 3,0 6,-4 H 78.7 H 78.7 v 5 c 0,10 -8,-8 -8,7.5 s 8,-2.5 8,7.5 v 56 H 79.4 l -6,4 -3,0 -6,-4 h -7 a 8,8 0 0,0 -8,8 v 90 a 8,8 0 0,0 8,8 H 78.7 v 10 H 30 l -6,4 -3,0 -6,-4 H 5.5 a 5.5,5.5 0 0,1 -5.5,-5.5 z" fill="#B18E35" fill-rule="evenodd"/>
<path transform="translate(148.1,2162)" d="M 1,5.5 A 4.5,4.5 0 0,1 5.5,1 H 15 l 6,4 3,0 6,-4 H 78.7" class="hl" stroke="#c8af71"/>
<path transform="translate(148.1,2162)" d="M 1,5.5 V 186.5" class="hl" stroke="#c8af71"/>
<path transform="translate(431.93,2383)" d="M 0,0 H 53.8 H 53.8 v 25 H 0 V 20 c 0,-10 -8,8 -8,-7.5 s 8,2.5 8,-7.5 z" fill="#93244c"/>
<path transform="translate(430.93,2382)" d="M 0,0 H 53.8 H 53.8 v 25 H 0 V 20 c 0,-10 -8,8 -8,-7.5 s 8,2.5 8,-7.5 z" fill="#B82D5F" fill-rule="evenodd"/>
<path transform="translate(430.93,2382)" d="M 1,1 H 53.8" class="hl" stroke="#cd6c8f"/>
<path transform="translate(430.93,2382)" d="M 1,25 V 20 M 1,5 V 1" class="hl" stroke="#cd6c8f"/>
<path transform="translate(413.74,2409)" d="M 0,0 H 53.8 H 53.8 v 25 H 0 V 20 c 0,-10 -8,8 -8,-7.5 s 8,2.5 8,-7.5 z" fill="#93244c"/>
<path transform="translate(412.74,2408)" d="M 0,0 H 53.8 H 53.8 v 25 H 0 V 20 c 0,-10 -8,8 -8,-7.5 s 8,2.5 8,-7.5 z" fill="#B82D5F" fill-rule="evenodd"/>
<path transform="translate(412.74,2408)" d="M 1,1 H 53.8" class="hl" stroke="#cd6c8f"/>
<path transform="translate(412.74,2408)" d="M 1,25 V 20 M 1,5 V 1" class="hl" stroke="#cd6c8f"/>
<path transform="translate(330.06,122)" d="M 0,0 H 20 H 575.86 v 62 H 0 V 20 c 0,-10 -8,8 -8,-7.5 s 8,2.5 8,-7.5 z M 275.49,5 h -258.79 v 1 v 5 c 0,10 -8,-8 -8,7.5 s 8,-2.5 8,7.5 v 32 h 258.79 z M 565.86,5 h -258.79 v 1 v 5 c 0,10 -8,-8 -8,7.5 s 8,-2.5 8,7.5 v 32 h 258.79 z" fill="#325a90"/>
<path transform="translate(329.06,121)" d="M 0,0 H 20 H 575.86 v 62 H 0 V 20 c 0,-10 -8,8 -8,-7.5 s 8,2.5 8,-7.5 z M 275.49,5 h -258.79 v 1 v 5 c 0,10 -8,-8 -8,7.5 s 8,-2.5 8,7.5 v 32 h 258.79 z M 565.86,5 h -258.79 v 1 v 5 c 0,10 -8,-8 -8,7.5 s 8,-2.5 8,7.5 v 32 h 258.79 z" fill="#3F71B5" fill-rule="evenodd"/>
<path transform="translate(329.06,121)" d="M 1,1 H 20" class="hl" stroke="#789bcb"/>
<path transform="translate(329.06,121)" d="M 1,62 V 20 M 1,5 V 1" class="hl" stroke="#789bcb"/>
<path transform="translate(448.84,185)" d="M 0,0 H 222.41 H 222.41 v 25 H 0 V 20 c 0,-10 -8,8 -8,-7.5 s 8,2.5 8,-7.5 z" fill="#93244c"/>
<path transform="translate(447.84,184)" d="M 0,0 H 222.41 H 222.41 v 25 H 0 V 20 c 0,-10 -8,8 -8,-7.5 s 8,2.5 8,-7.5 z" fill="#B82D5F" fill-rule="evenodd"/>
<path transform="translate(447.84,184)" d="M 1,1 H 222.41" class="hl" stroke="#cd6c8f"/>
<path transform="translate(447.84,184)" d="M 1,25 V 20 M 1,5 V 1" class="hl" stroke="#cd6c8f"/>
<path transform="translate(455.44,211)" d="M 0,0 H 77.81 H 77.81 v 5 c 0,10 -8,-8 -8,7.5 s 8,-2.5 8,7.5 v 6 H 77.81 v 5 c 0,10 -8,-8 -8,7.5 s 8,-2.5 8,7.5 v 5 H 0 V 20 c 0,-10 -8,8 -8,-7.5 s 8,2.5 8,-7.5 z" fill="#93244c"/>
<path transform="translate(454.44,210)" d="M 0,0 H 77.81 H 77.81 v 5 c 0,10 -8,-8 -8,7.5 s 8,-2.5 8,7.5 v 6 H 77.81 v 5 c 0,10 -8,-8 -8,7.5 s 8,-2.5 8,7.5 v 5 H 0 V 20 c 0,-10 -8,8 -8,-7.5 s 8,2.5 8,-7.5 z" fill="#B82D5F" fill-rule="evenodd"/>
<path transform="translate(454.44,210)" d="M 1,1 H 77.81" class="hl" stroke="#cd6c8f"/>
<path transform="translate(454.44,210)" d="M 1,51 V 20 M 1,5 V 1" class="hl" stroke="#cd6c8f"/>
<path transform="translate(198.2,263)" d="M 0,0 H 20 H 288.55 v 36 H 0 V 20 c 0,-10 -8,8 -8,-7.5 s 8,2.5 8,-7.5 z M 197.79,5 h -181.09 v 1 v 5 c 0,10 -8,-8 -8,7.5 s 8,-2.5 8,7.5 v 6 h 181.09 z M 278.55,5 h -28.86 v 1 v 5 c 0,10 -8,-8 -8,7.5 s 8,-2.5 8,7.5 v 6 h 28.86 z" fill="#325a90"/>
<path transform="translate(197.2,262)" d="M 0,0 H 20 H 288.55 v 36 H 0 V 20 c 0,-10 -8,8 -8,-7.5 s 8,2.5 8,-7.5 z M 197.79,5 h -181.09 v 1 v 5 c 0,10 -8,-8 -8,7.5 s 8,-2.5 8,7.5 v 6 h 181.09 z M 278.55,5 h -28.86 v 1 v 5 c 0,10 -8,-8 -8,7.5 s 8,-2.5 8,7.5 v 6 h 28.86 z" fill="#3F71B5" fill-rule="evenodd"/>
<path transform="translate(197.2,262)" d="M 1,1 H 20" class="hl" stroke="#789bcb"/>
<path transform="translate(197.2,262)" d="M 1,36 V 20 M 1,5 V 1" class="hl" stroke="#789bcb"/>
<path transform="translate(168.4,300)" d="M 0,5.5 A 5.5,5.5 0 0,1 5.5,0 H 15 l 6,4 3,0 6,-4 H 330.14 H 330.14 v 5 c 0,10 -8,-8 -8,7.5 s 8,-2.5 8,7.5 v 187 H 30 l -6,4 -3,0 -6,-4 H 0 z" fill="#1e5135"/>
<path transform="translate(167.4,299)" d="M 0,5.5 A 5.5,5.5 0 0,1 5.5,0 H 15 l 6,4 3,0 6,-4 H 330.14 H 330.14 v 5 c 0,10 -8,-8 -8,7.5 s 8,-2.5 8,7.5 v 187 H 30 l -6,4 -3,0 -6,-4 H 0 z" fill="#266643" fill-rule="evenodd"/>
<path transform="translate(167.4,299)" d="M 1,5.5 A 4.5,4.5 0 0,1 5.5,1 H 15 l 6,4 3,0 6,-4 H 330.14" class="hl" stroke="#67937b"/>
<path transform="translate(167.4,299)" d="M 1,5.5 V 207" class="hl" stroke="#67937b"/>
<path transform="translate(168.4,508)" d="M 0,0 H 15 l 6,4 3,0 6,-4 H 306.36 H 306.36 v 25 H 30 l -6,4 -3,0 -6,-4 H 5.5 a 5.5,5.5 0 0,1 -5.5,-5.5 z" fill="#63426a"/>
<path transform="translate(167.4,507)" d="M 0,0 H 15 l 6,4 3,0 6,-4 H 306.36 H 306.36 v 25 H 30 l -6,4 -3,0 -6,-4 H 5.5 a 5.5,5.5 0 0,1 -5.5,-5.5 z" fill="#7C5385" fill-rule="evenodd"/>
<path transform="translate(167.4,507)" d="M 1,1 H 15 l 6,4 3,0 6,-4 H 306.36" class="hl" stroke="#a386a9"/>
<path transform="translate(167.4,507)" d="M 1,1 V 19.5" class="hl" stroke="#a386a9"/>
<path transform="translate(198.2,537)" d="M 0,0 H 20 H 288.55 v 36 H 0 V 20 c 0,-10 -8,8 -8,-7.5 s 8,2.5 8,-7.5 z M 197.79,5 h -181.09 v 1 v 5 c 0,10 -8,-8 -8,7.5 s 8,-2.5 8,7.5 v 6 h 181.09 z M 278.55,5 h -28.86 v 1 v 5 c 0,10 -8,-8 -8,7.5 s 8,-2.5 8,7.5 v 6 h 28.86 z" fill="#325a90"/>
<path transform="translate(197.2,536)" d="M 0,0 H 20 H 288.55 v 36 H 0 V 20 c 0,-10 -8,8 -8,-7.5 s 8,2.5 8,-7.5 z M 197.79,5 h -181.09 v 1 v 5 c 0,10 -8,-8 -8,7.5 s 8,-2.5 8,7.5 v 6 h 181.09 z M 278.55,5 h -28.86 v 1 v 5 c 0,10 -8,-8 -8,7.5 s 8,-2.5 8,7.5 v 6 h 28.86 z" fill="#3F71B5" fill-rule="evenodd"/>
<path transform="translate(197.2,536)" d="M 1,1 H 20" class="hl" stroke="#789bcb"/>
<path transform="translate(197.2,536)" d="M 1,36 V 20 M 1,5 V 1" class="hl" stroke="#789bcb"/>
<path transform="translate(168.4,574)" d="M 0,5.5 A 5.5,5.5 0 0,1 5.5,0 H 15 l 6,4 3,0 6,-4 H 330.14 H 330.14 v 5 c 0,10 -8,-8 -8,7.5 s 8,-2.5 8,7.5 v 187 H 30 l -6,4 -3,0 -6,-4 H 0 z" fill="#1e5135"/>
<path transform="translate(167.4,573)" d="M 0,5.5 A 5.5,5.5 0 0,1 5.5,0 H 15 l 6,4 3,0 6,-4 H 330.14 H 330.14 v 5 c 0,10 -8,-8 -8,7.5 s 8,-2.5 8,7.5 v 187 H 30 l -6,4 -3,0 -6,-4 H 0 z" fill="#266643" fill-rule="evenodd"/>
<path transform="translate(167.4,573)" d="M 1,5.5 A 4.5,4.5 0 0,1 5.5,1 H 15 l 6,4 3,0 6,-4 H 330.14" class="hl" stroke="#67937b"/>
<path transform="translate(167.4,573)" d="M 1,5.5 V 207" class="hl" stroke="#67937b"/>
<path transform="translate(168.4,782)" d="M 0,0 H 15 l 6,4 3,0 6,-4 H 306.36 H 306.36 v 25 H 30 l -6,4 -3,0 -6,-4 H 5.5 a 5.5,5.5 0 0,1 -5.5,-5.5 z" fill="#63426a"/>
<path transform="translate(167.4,781)" d="M 0,0 H 15 l 6,4 3,0 6,-4 H 306.36 H 306.36 v 25 H 30 l -6,4 -3,0 -6,-4 H 5.5 a 5.5,5.5 0 0,1 -5.5,-5.5 z" fill="#7C5385" fill-rule="evenodd"/>
<path transform="translate(167.4,781)" d="M 1,1 H 15 l 6,4 3,0 6,-4 H 306.36" class="hl" stroke="#a386a9"/>
<path transform="translate(167.4,781)" d="M 1,1 V 19.5" class="hl" stroke="#a386a9"/>
<path transform="translate(168.4,822)" d="M 0,5.5 A 5.5,5.5 0 0,1 5.5,0 H 15 l 6,4 3,0 6,-4 H 284.84 H 284.84 v 25 H 284.84 v 5 c 0,10 -8,-8 -8,7.5 s 8,-2.5 8,7.5 v 6 H 284.84 v 5 c 0,10 -8,-8 -8,7.5 s 8,-2.5 8,7.5 v 6 H 284.84 v 5 c 0,10 -8,-8 -8,7.5 s 8,-2.5 8,7.5 v 5 H 30 l -6,4 -3,0 -6,-4 H 5.5 a 5.5,5.5 0 0,1 -5.5,-5.5 z" fill="#63426a"/>
<path transform="translate(167.4,821)" d="M 0,5.5 A 5.5,5.5 0 0,1 5.5,0 H 15 l 6,4 3,0 6,-4 H 284.84 H 284.84 v 25 H 284.84 v 5 c 0,10 -8,-8 -8,7.5 s 8,-2.5 8,7.5 v 6 H 284.84 v 5 c 0,10 -8,-8 -8,7.5 s 8,-2.5 8,7.5 v 6 H 284.84 v 5 c 0,10 -8,-8 -8,7.5 s 8,-2.5 8,7.5 v 5 H 30 l -6,4 -3,0 -6,-4 H 5.5 a 5.5,5.5 0 0,1 -5.5,-5.5 z" fill="#7C5385" fill-rule="evenodd"/>
<path transform="translate(167.4,821)" d="M 1,5.5 A 4.5,4.5 0 0,1 5.5,1 H 15 l 6,4 3,0 6,-4 H 284.84" class="hl" stroke="#a386a9"/>
<path transform="translate(167.4,821)" d="M 1,5.5 V 96.5" class="hl" stroke="#a386a9"/>
<path transform="translate(207.1,1086)" d="M 0,0 H 144.69 H 144.69 v 25 H 0 V 20 c 0,-10 -8,8 -8,-7.5 s 8,2.5 8,-7.5 z" fill="#a64c24"/>
<path transform="translate(206.1,1085)" d="M 0,0 H 144.69 H 144.69 v 25 H 0 V 20 c 0,-10 -8,8 -8,-7.5 s 8,2.5 8,-7.5 z" fill="#D05F2D" fill-rule="evenodd"/>
<path transform="translate(206.1,1085)" d="M 1,1 H 144.69" class="hl" stroke="#de8f6c"/>
<path transform="translate(206.1,1085)" d="M 1,25 V 20 M 1,5 V 1" class="hl" stroke="#de8f6c"/>
<path transform="translate(404.99,1086)" d="M 0,0 H 66.7 H 66.7 v 25 H 0 V 20 c 0,-10 -8,8 -8,-7.5 s 8,2.5 8,-7.5 z" fill="#5f8834"/>
<path transform="translate(403.99,1085)" d="M 0,0 H 66.7 H 66.7 v 25 H 0 V 20 c 0,-10 -8,8 -8,-7.5 s 8,2.5 8,-7.5 z" fill="#77AB41" fill-rule="evenodd"/>
<path transform="translate(403.99,1085)" d="M 1,1 H 66.7" class="hl" stroke="#9fc47a"/>
<path transform="translate(403.99,1085)" d="M 1,25 V 20 M 1,5 V 1" class="hl" stroke="#9fc47a"/>
<path transform="translate(521.83,1142)" d="M 0,0 H 263.69 H 263.69 v 25 H 0 V 20 c 0,-10 -8,8 -8,-7.5 s 8,2.5 8,-7.5 z" fill="#a64c24"/>
<path transform="translate(520.83,1141)" d="M 0,0 H 263.69 H 263.69 v 25 H 0 V 20 c 0,-10 -8,8 -8,-7.5 s 8,2.5 8,-7.5 z" fill="#D05F2D" fill-rule="evenodd"/>
<path transform="translate(520.83,1141)" d="M 1,1 H 263.69" class="hl" stroke="#de8f6c"/>
<path transform="translate(520.83,1141)" d="M 1,25 V 20 M 1,5 V 1" class="hl" stroke="#de8f6c"/>
<path transform="translate(521.83,1168)" d="M 0,0 H 186.6 H 186.6 v 25 H 0 V 20 c 0,-10 -8,8 -8,-7.5 s 8,2.5 8,-7.5 z" fill="#93244c"/>
<path transform="translate(520.83,1167)" d="M 0,0 H 186.6 H 186.6 v 25 H 0 V 20 c 0,-10 -8,8 -8,-7.5 s 8,2.5 8,-7.5 z" fill="#B82D5F" fill-rule="evenodd"/>
<path transform="translate(520.83,1167)" d="M 1,1 H 186.6" class="hl" stroke="#cd6c8f"/>
<path transform="translate(520.83,1167)" d="M 1,25 V 20 M 1,5 V 1" class="hl" stroke="#cd6c8f"/>
<path transform="translate(521.83,1194)" d="M 0,0 H 77.81 H 77.81 v 5 c 0,10 -8,-8 -8,7.5 s 8,-2.5 8,7.5 v 109 H 77.81 v 5 c 0,10 -8,-8 -8,7.5 s 8,-2.5 8,7.5 v 6 H 77.81 v 5 c 0,10 -8,-8 -8,7.5 s 8,-2.5 8,7.5 v 57 H 77.81 v 5 c 0,10 -8,-8 -8,7.5 s 8,-2.5 8,7.5 v 6 H 77.81 v 5 c 0,10 -8,-8 -8,7.5 s 8,-2.5 8,7.5 v 81 H 0 V 20 c 0,-10 -8,8 -8,-7.5 s 8,2.5 8,-7.5 z" fill="#93244c"/>
<path transform="translate(520.83,1193)" d="M 0,0 H 77.81 H 77.81 v 5 c 0,10 -8,-8 -8,7.5 s 8,-2.5 8,7.5 v 109 H 77.81 v 5 c 0,10 -8,-8 -8,7.5 s 8,-2.5 8,7.5 v 6 H 77.81 v 5 c 0,10 -8,-8 -8,7.5 s 8,-2.5 8,7.5 v 57 H 77.81 v 5 c 0,10 -8,-8 -8,7.5 s 8,-2.5 8,7.5 v 6 H 77.81 v 5 c 0,10 -8,-8 -8,7.5 s 8,-2.5 8,7.5 v 81 H 0 V 20 c 0,-10 -8,8 -8,-7.5 s 8,2.5 8,-7.5 z" fill="#B82D5F" fill-rule="evenodd"/>
<path transform="translate(520.83,1193)" d="M 1,1 H 77.81" class="hl" stroke="#cd6c8f"/>
<path transform="translate(520.83,1193)" d="M 1,359 V 20 M 1,5 V 1" class="hl" stroke="#cd6c8f"/>
<path transform="translate(550.74,1658)" d="M 0,0 H 126.76 H 126.76 v 25 H 126.76 v 5 c 0,10 -8,-8 -8,7.5 s 8,-2.5 8,7.5 v 5 H 0 V 20 c 0,-10 -8,8 -8,-7.5 s 8,2.5 8,-7.5 z" fill="#63426a"/>
<path transform="translate(549.74,1657)" d="M 0,0 H 126.76 H 126.76 v 25 H 126.76 v 5 c 0,10 -8,-8 -8,7.5 s 8,-2.5 8,7.5 v 5 H 0 V 20 c 0,-10 -8,8 -8,-7.5 s 8,2.5 8,-7.5 z" fill="#7C5385" fill-rule="evenodd"/>
<path transform="translate(549.74,1657)" d="M 1,1 H 126.76" class="hl" stroke="#a386a9"/>
<path transform="translate(549.74,1657)" d="M 1,50 V 20 M 1,5 V 1" class="hl" stroke="#a386a9"/>
<path transform="translate(550.74,1709)" d="M 0,0 H 53.5 H 53.5 v 25 H 0 V 20 c 0,-10 -8,8 -8,-7.5 s 8,2.5 8,-7.5 z" fill="#93244c"/>
<path transform="translate(549.74,1708)" d="M 0,0 H 53.5 H 53.5 v 25 H 0 V 20 c 0,-10 -8,8 -8,-7.5 s 8,2.5 8,-7.5 z" fill="#B82D5F" fill-rule="evenodd"/>
<path transform="translate(549.74,1708)" d="M 1,1 H 53.5" class="hl" stroke="#cd6c8f"/>
<path transform="translate(549.74,1708)" d="M 1,25 V 20 M 1,5 V 1" class="hl" stroke="#cd6c8f"/>
<path transform="translate(550.74,1735)" d="M 0,0 H 126.76 H 126.76 v 25 H 126.76 v 5 c 0,10 -8,-8 -8,7.5 s 8,-2.5 8,7.5 v 31 H 0 V 20 c 0,-10 -8,8 -8,-7.5 s 8,2.5 8,-7.5 z" fill="#63426a"/>
<path transform="translate(549.74,1734)" d="M 0,0 H 126.76 H 126.76 v 25 H 126.76 v 5 c 0,10 -8,-8 -8,7.5 s 8,-2.5 8,7.5 v 31 H 0 V 20 c 0,-10 -8,8 -8,-7.5 s 8,2.5 8,-7.5 z" fill="#7C5385" fill-rule="evenodd"/>
<path transform="translate(549.74,1734)" d="M 1,1 H 126.76" class="hl" stroke="#a386a9"/>
<path transform="translate(549.74,1734)" d="M 1,76 V 20 M 1,5 V 1" class="hl" stroke="#a386a9"/>
<path transform="translate(550.74,1812)" d="M 0,0 H 53.5 H 53.5 v 25 H 0 V 20 c 0,-10 -8,8 -8,-7.5 s 8,2.5 8,-7.5 z" fill="#93244c"/>
<path transform="translate(549.74,1811)" d="M 0,0 H 53.5 H 53.5 v 25 H 0 V 20 c 0,-10 -8,8 -8,-7.5 s 8,2.5 8,-7.5 z" fill="#B82D5F" fill-rule="evenodd"/>
<path transform="translate(549.74,1811)" d="M 1,1 H 53.5" class="hl" stroke="#cd6c8f"/>
<path transform="translate(549.74,1811)" d="M 1,25 V 20 M 1,5 V 1" class="hl" stroke="#cd6c8f"/>
<path transform="translate(550.74,1838)" d="M 0,0 H 126.76 H 126.76 v 25 H 126.76 v 5 c 0,10 -8,-8 -8,7.5 s 8,-2.5 8,7.5 v 56 H 0 V 20 c 0,-10 -8,8 -8,-7.5 s 8,2.5 8,-7.5 z" fill="#63426a"/>
<path transform="translate(549.74,1837)" d="M 0,0 H 126.76 H 126.76 v 25 H 126.76 v 5 c 0,10 -8,-8 -8,7.5 s 8,-2.5 8,7.5 v 56 H 0 V 20 c 0,-10 -8,8 -8,-7.5 s 8,2.5 8,-7.5 z" fill="#7C5385" fill-rule="evenodd"/>
<path transform="translate(549.74,1837)" d="M 1,1 H 126.76" class="hl" stroke="#a386a9"/>
<path transform="translate(549.74,1837)" d="M 1,101 V 20 M 1,5 V 1" class="hl" stroke="#a386a9"/>
<path transform="translate(425.49,2111)" d="M 0,0 H 215.79 H 215.79 v 25 H 0 V 20 c 0,-10 -8,8 -8,-7.5 s 8,2.5 8,-7.5 z" fill="#a64c24"/>
<path transform="translate(424.49,2110)" d="M 0,0 H 215.79 H 215.79 v 25 H 0 V 20 c 0,-10 -8,8 -8,-7.5 s 8,2.5 8,-7.5 z" fill="#D05F2D" fill-rule="evenodd"/>
<path transform="translate(424.49,2110)" d="M 1,1 H 215.79" class="hl" stroke="#de8f6c"/>
<path transform="translate(424.49,2110)" d="M 1,25 V 20 M 1,5 V 1" class="hl" stroke="#de8f6c"/>
<path transform="translate(228.3,2163)" d="M 0,0 H 183.89 H 183.89 v 25 H 183.89 v 5 c 0,10 -8,-8 -8,7.5 s 8,-2.5 8,7.5 v 31 H 0 V 20 c 0,-10 -8,8 -8,-7.5 s 8,2.5 8,-7.5 z" fill="#357a59"/>
<path transform="translate(227.3,2162)" d="M 0,0 H 183.89 H 183.89 v 25 H 183.89 v 5 c 0,10 -8,-8 -8,7.5 s 8,-2.5 8,7.5 v 31 H 0 V 20 c 0,-10 -8,8 -8,-7.5 s 8,2.5 8,-7.5 z" fill="#439970" fill-rule="evenodd"/>
<path transform="translate(227.3,2162)" d="M 1,1 H 183.89" class="hl" stroke="#7bb79a"/>
<path transform="translate(227.3,2162)" d="M 1,76 V 20 M 1,5 V 1" class="hl" stroke="#7bb79a"/>
<path transform="translate(198.5,2240)" d="M 0,5.5 A 5.5,5.5 0 0,1 5.5,0 H 15 l 6,4 3,0 6,-4 H 207.53 H 207.53 v 25 H 207.53 v 5 c 0,10 -8,-8 -8,7.5 s 8,-2.5 8,7.5 v 32 H 207.53 v 5 c 0,10 -8,-8 -8,7.5 s 8,-2.5 8,7.5 v 5 H 30 l -6,4 -3,0 -6,-4 H 5.5 a 5.5,5.5 0 0,1 -5.5,-5.5 z" fill="#1e5135"/>
<path transform="translate(197.5,2239)" d="M 0,5.5 A 5.5,5.5 0 0,1 5.5,0 H 15 l 6,4 3,0 6,-4 H 207.53 H 207.53 v 25 H 207.53 v 5 c 0,10 -8,-8 -8,7.5 s 8,-2.5 8,7.5 v 32 H 207.53 v 5 c 0,10 -8,-8 -8,7.5 s 8,-2.5 8,7.5 v 5 H 30 l -6,4 -3,0 -6,-4 H 5.5 a 5.5,5.5 0 0,1 -5.5,-5.5 z" fill="#266643" fill-rule="evenodd"/>
<path transform="translate(197.5,2239)" d="M 1,5.5 A 4.5,4.5 0 0,1 5.5,1 H 15 l 6,4 3,0 6,-4 H 207.53" class="hl" stroke="#67937b"/>
<path transform="translate(197.5,2239)" d="M 1,5.5 V 96.5" class="hl" stroke="#67937b"/>
<path transform="translate(346.76,128)" d="M 0,0 H 151.8 H 151.8 v 5 c 0,10 -8,-8 -8,7.5 s 8,-2.5 8,7.5 v 6 H 151.8 v 5 c 0,10 -8,-8 -8,7.5 s 8,-2.5 8,7.5 v 5 H 0 V 20 c 0,-10 -8,8 -8,-7.5 s 8,2.5 8,-7.5 z" fill="#3a84a9"/>
<path transform="translate(345.76,127)" d="M 0,0 H 151.8 H 151.8 v 5 c 0,10 -8,-8 -8,7.5 s 8,-2.5 8,7.5 v 6 H 151.8 v 5 c 0,10 -8,-8 -8,7.5 s 8,-2.5 8,7.5 v 5 H 0 V 20 c 0,-10 -8,8 -8,-7.5 s 8,2.5 8,-7.5 z" fill="#49A6D4" fill-rule="evenodd"/>
<path transform="translate(345.76,127)" d="M 1,1 H 151.8" class="hl" stroke="#7fc0e0"/>
<path transform="translate(345.76,127)" d="M 1,51 V 20 M 1,5 V 1" class="hl" stroke="#7fc0e0"/>
<path transform="translate(637.13,128)" d="M 0,0 H 151.8 H 151.8 v 5 c 0,10 -8,-8 -8,7.5 s 8,-2.5 8,7.5 v 6 H 151.8 v 5 c 0,10 -8,-8 -8,7.5 s 8,-2.5 8,7.5 v 5 H 0 V 20 c 0,-10 -8,8 -8,-7.5 s 8,2.5 8,-7.5 z" fill="#3a84a9"/>
<path transform="translate(636.13,127)" d="M 0,0 H 151.8 H 151.8 v 5 c 0,10 -8,-8 -8,7.5 s 8,-2.5 8,7.5 v 6 H 151.8 v 5 c 0,10 -8,-8 -8,7.5 s 8,-2.5 8,7.5 v 5 H 0 V 20 c 0,-10 -8,8 -8,-7.5 s 8,2.5 8,-7.5 z" fill="#49A6D4" fill-rule="evenodd"/>
<path transform="translate(636.13,127)" d="M 1,1 H 151.8" class="hl" stroke="#7fc0e0"/>
<path transform="translate(636.13,127)" d="M 1,51 V 20 M 1,5 V 1" class="hl" stroke="#7fc0e0"/>
<path transform="translate(533.75,211)" d="M 0,0 H 91.97 H 91.97 v 25 H 0 V 20 c 0,-10 -8,8 -8,-7.5 s 8,2.5 8,-7.5 z" fill="#93244c"/>
<path transform="translate(532.75,210)" d="M 0,0 H 91.97 H 91.97 v 25 H 0 V 20 c 0,-10 -8,8 -8,-7.5 s 8,2.5 8,-7.5 z" fill="#B82D5F" fill-rule="evenodd"/>
<path transform="translate(532.75,210)" d="M 1,1 H 91.97" class="hl" stroke="#cd6c8f"/>
<path transform="translate(532.75,210)" d="M 1,25 V 20 M 1,5 V 1" class="hl" stroke="#cd6c8f"/>
<path transform="translate(533.75,237)" d="M 0,0 H 217.5 H 217.5 v 25 H 0 V 20 c 0,-10 -8,8 -8,-7.5 s 8,2.5 8,-7.5 z" fill="#357a59"/>
<path transform="translate(532.75,236)" d="M 0,0 H 217.5 H 217.5 v 25 H 0 V 20 c 0,-10 -8,8 -8,-7.5 s 8,2.5 8,-7.5 z" fill="#439970" fill-rule="evenodd"/>
<path transform="translate(532.75,236)" d="M 1,1 H 217.5" class="hl" stroke="#7bb79a"/>
<path transform="translate(532.75,236)" d="M 1,25 V 20 M 1,5 V 1" class="hl" stroke="#7bb79a"/>
<path transform="translate(214.9,269)" d="M 0,0 H 180.39 H 180.39 v 25 H 0 V 20 c 0,-10 -8,8 -8,-7.5 s 8,2.5 8,-7.5 z" fill="#a64c24"/>
<path transform="translate(213.9,268)" d="M 0,0 H 180.39 H 180.39 v 25 H 0 V 20 c 0,-10 -8,8 -8,-7.5 s 8,2.5 8,-7.5 z" fill="#D05F2D" fill-rule="evenodd"/>
<path transform="translate(213.9,268)" d="M 1,1 H 180.39" class="hl" stroke="#de8f6c"/>
<path transform="translate(213.9,268)" d="M 1,25 V 20 M 1,5 V 1" class="hl" stroke="#de8f6c"/>
<path transform="translate(447.89,269)" d="M 0,0 H 28.16 H 28.16 v 25 H 0 V 20 c 0,-10 -8,8 -8,-7.5 s 8,2.5 8,-7.5 z" fill="#325a90"/>
<path transform="translate(446.89,268)" d="M 0,0 H 28.16 H 28.16 v 25 H 0 V 20 c 0,-10 -8,8 -8,-7.5 s 8,2.5 8,-7.5 z" fill="#3F71B5" fill-rule="evenodd"/>
<path transform="translate(446.89,268)" d="M 1,1 H 28.16" class="hl" stroke="#789bcb"/>
<path transform="translate(446.89,268)" d="M 1,25 V 20 M 1,5 V 1" class="hl" stroke="#789bcb"/>
<path transform="translate(499.04,300)" d="M 0,0 H 127.4 H 127.4 v 5 c 0,10 -8,-8 -8,7.5 s 8,-2.5 8,7.5 v 32 H 127.4 v 5 c 0,10 -8,-8 -8,7.5 s 8,-2.5 8,7.5 v 135 H 0 V 20 c 0,-10 -8,8 -8,-7.5 s 8,2.5 8,-7.5 z" fill="#3a84a9"/>
<path transform="translate(498.04,299)" d="M 0,0 H 127.4 H 127.4 v 5 c 0,10 -8,-8 -8,7.5 s 8,-2.5 8,7.5 v 32 H 127.4 v 5 c 0,10 -8,-8 -8,7.5 s 8,-2.5 8,7.5 v 135 H 0 V 20 c 0,-10 -8,8 -8,-7.5 s 8,2.5 8,-7.5 z" fill="#49A6D4" fill-rule="evenodd"/>
<path transform="translate(498.04,299)" d="M 1,1 H 127.4" class="hl" stroke="#7fc0e0"/>
<path transform="translate(498.04,299)" d="M 1,207 V 20 M 1,5 V 1" class="hl" stroke="#7fc0e0"/>
<path transform="translate(214.9,543)" d="M 0,0 H 180.39 H 180.39 v 25 H 0 V 20 c 0,-10 -8,8 -8,-7.5 s 8,2.5 8,-7.5 z" fill="#a64c24"/>
<path transform="translate(213.9,542)" d="M 0,0 H 180.39 H 180.39 v 25 H 0 V 20 c 0,-10 -8,8 -8,-7.5 s 8,2.5 8,-7.5 z" fill="#D05F2D" fill-rule="evenodd"/>
<path transform="translate(213.9,542)" d="M 1,1 H 180.39" class="hl" stroke="#de8f6c"/>
<path transform="translate(213.9,542)" d="M 1,25 V 20 M 1,5 V 1" class="hl" stroke="#de8f6c"/>
<path transform="translate(447.89,543)" d="M 0,0 H 28.16 H 28.16 v 25 H 0 V 20 c 0,-10 -8,8 -8,-7.5 s 8,2.5 8,-7.5 z" fill="#325a90"/>
<path transform="translate(446.89,542)" d="M 0,0 H 28.16 H 28.16 v 25 H 0 V 20 c 0,-10 -8,8 -8,-7.5 s 8,2.5 8,-7.5 z" fill="#3F71B5" fill-rule="evenodd"/>
<path transform="translate(446.89,542)" d="M 1,1 H 28.16" class="hl" stroke="#789bcb"/>
<path transform="translate(446.89,542)" d="M 1,25 V 20 M 1,5 V 1" class="hl" stroke="#789bcb"/>
<path transform="translate(499.04,574)" d="M 0,0 H 127.4 H 127.4 v 5 c 0,10 -8,-8 -8,7.5 s 8,-2.5 8,7.5 v 32 H 127.4 v 5 c 0,10 -8,-8 -8,7.5 s 8,-2.5 8,7.5 v 135 H 0 V 20 c 0,-10 -8,8 -8,-7.5 s 8,2.5 8,-7.5 z" fill="#3a84a9"/>
<path transform="translate(498.04,573)" d="M 0,0 H 127.4 H 127.4 v 5 c 0,10 -8,-8 -8,7.5 s 8,-2.5 8,7.5 v 32 H 127.4 v 5 c 0,10 -8,-8 -8,7.5 s 8,-2.5 8,7.5 v 135 H 0 V 20 c 0,-10 -8,8 -8,-7.5 s 8,2.5 8,-7.5 z" fill="#49A6D4" fill-rule="evenodd"/>
<path transform="translate(498.04,573)" d="M 1,1 H 127.4" class="hl" stroke="#7fc0e0"/>
<path transform="translate(498.04,573)" d="M 1,207 V 20 M 1,5 V 1" class="hl" stroke="#7fc0e0"/>
<path transform="translate(453.74,847)" d="M 0,0 H 376.4 H 376.4 v 25 H 0 V 20 c 0,-10 -8,8 -8,-7.5 s 8,2.5 8,-7.5 z" fill="#93244c"/>
<path transform="translate(452.74,846)" d="M 0,0 H 376.4 H 376.4 v 25 H 0 V 20 c 0,-10 -8,8 -8,-7.5 s 8,2.5 8,-7.5 z" fill="#B82D5F" fill-rule="evenodd"/>
<path transform="translate(452.74,846)" d="M 1,1 H 376.4" class="hl" stroke="#cd6c8f"/>
<path transform="translate(452.74,846)" d="M 1,25 V 20 M 1,5 V 1" class="hl" stroke="#cd6c8f"/>
<path transform="translate(453.74,873)" d="M 0,0 H 96.9 H 96.9 v 25 H 0 V 20 c 0,-10 -8,8 -8,-7.5 s 8,2.5 8,-7.5 z" fill="#93244c"/>
<path transform="translate(452.74,872)" d="M 0,0 H 96.9 H 96.9 v 25 H 0 V 20 c 0,-10 -8,8 -8,-7.5 s 8,2.5 8,-7.5 z" fill="#B82D5F" fill-rule="evenodd"/>
<path transform="translate(452.74,872)" d="M 1,1 H 96.9" class="hl" stroke="#cd6c8f"/>
<path transform="translate(452.74,872)" d="M 1,25 V 20 M 1,5 V 1" class="hl" stroke="#cd6c8f"/>
<path transform="translate(453.74,899)" d="M 0,0 H 95.9 H 95.9 v 25 H 0 V 20 c 0,-10 -8,8 -8,-7.5 s 8,2.5 8,-7.5 z" fill="#93244c"/>
<path transform="translate(452.74,898)" d="M 0,0 H 95.9 H 95.9 v 25 H 0 V 20 c 0,-10 -8,8 -8,-7.5 s 8,2.5 8,-7.5 z" fill="#B82D5F" fill-rule="evenodd"/>
<path transform="translate(452.74,898)" d="M 1,1 H 95.9" class="hl" stroke="#cd6c8f"/>
<path transform="translate(452.74,898)" d="M 1,25 V 20 M 1,5 V 1" class="hl" stroke="#cd6c8f"/>
<path transform="translate(600.14,1194)" d="M 0,0 H 126.76 H 126.76 v 25 H 126.76 v 5 c 0,10 -8,-8 -8,7.5 s 8,-2.5 8,7.5 v 83 H 0 V 20 c 0,-10 -8,8 -8,-7.5 s 8,2.5 8,-7.5 z" fill="#63426a"/>
<path transform="translate(599.14,1193)" d="M 0,0 H 126.76 H 126.76 v 25 H 126.76 v 5 c 0,10 -8,-8 -8,7.5 s 8,-2.5 8,7.5 v 83 H 0 V 20 c 0,-10 -8,8 -8,-7.5 s 8,2.5 8,-7.5 z" fill="#7C5385" fill-rule="evenodd"/>
<path transform="translate(599.14,1193)" d="M 1,1 H 126.76" class="hl" stroke="#a386a9"/>
<path transform="translate(599.14,1193)" d="M 1,128 V 20 M 1,5 V 1" class="hl" stroke="#a386a9"/>
<path transform="translate(600.14,1323)" d="M 0,0 H 53.5 H 53.5 v 25 H 0 V 20 c 0,-10 -8,8 -8,-7.5 s 8,2.5 8,-7.5 z" fill="#93244c"/>
<path transform="translate(599.14,1322)" d="M 0,0 H 53.5 H 53.5 v 25 H 0 V 20 c 0,-10 -8,8 -8,-7.5 s 8,2.5 8,-7.5 z" fill="#B82D5F" fill-rule="evenodd"/>
<path transform="translate(599.14,1322)" d="M 1,1 H 53.5" class="hl" stroke="#cd6c8f"/>
<path transform="translate(599.14,1322)" d="M 1,25 V 20 M 1,5 V 1" class="hl" stroke="#cd6c8f"/>
<path transform="translate(600.14,1349)" d="M 0,0 H 126.76 H 126.76 v 25 H 126.76 v 5 c 0,10 -8,-8 -8,7.5 s 8,-2.5 8,7.5 v 31 H 0 V 20 c 0,-10 -8,8 -8,-7.5 s 8,2.5 8,-7.5 z" fill="#63426a"/>
<path transform="translate(599.14,1348)" d="M 0,0 H 126.76 H 126.76 v 25 H 126.76 v 5 c 0,10 -8,-8 -8,7.5 s 8,-2.5 8,7.5 v 31 H 0 V 20 c 0,-10 -8,8 -8,-7.5 s 8,2.5 8,-7.5 z" fill="#7C5385" fill-rule="evenodd"/>
<path transform="translate(599.14,1348)" d="M 1,1 H 126.76" class="hl" stroke="#a386a9"/>
<path transform="translate(599.14,1348)" d="M 1,76 V 20 M 1,5 V 1" class="hl" stroke="#a386a9"/>
<path transform="translate(600.14,1426)" d="M 0,0 H 53.5 H 53.5 v 25 H 0 V 20 c 0,-10 -8,8 -8,-7.5 s 8,2.5 8,-7.5 z" fill="#93244c"/>
<path transform="translate(599.14,1425)" d="M 0,0 H 53.5 H 53.5 v 25 H 0 V 20 c 0,-10 -8,8 -8,-7.5 s 8,2.5 8,-7.5 z" fill="#B82D5F" fill-rule="evenodd"/>
<path transform="translate(599.14,1425)" d="M 1,1 H 53.5" class="hl" stroke="#cd6c8f"/>
<path transform="translate(599.14,1425)" d="M 1,25 V 20 M 1,5 V 1" class="hl" stroke="#cd6c8f"/>
<path transform="translate(600.14,1452)" d="M 0,0 H 126.76 H 126.76 v 25 H 126.76 v 5 c 0,10 -8,-8 -8,7.5 s 8,-2.5 8,7.5 v 56 H 0 V 20 c 0,-10 -8,8 -8,-7.5 s 8,2.5 8,-7.5 z" fill="#63426a"/>
<path transform="translate(599.14,1451)" d="M 0,0 H 126.76 H 126.76 v 25 H 126.76 v 5 c 0,10 -8,-8 -8,7.5 s 8,-2.5 8,7.5 v 56 H 0 V 20 c 0,-10 -8,8 -8,-7.5 s 8,2.5 8,-7.5 z" fill="#7C5385" fill-rule="evenodd"/>
<path transform="translate(599.14,1451)" d="M 1,1 H 126.76" class="hl" stroke="#a386a9"/>
<path transform="translate(599.14,1451)" d="M 1,101 V 20 M 1,5 V 1" class="hl" stroke="#a386a9"/>
<path transform="translate(678,1683)" d="M 0,0 H 77.81 H 77.81 v 5 c 0,10 -8,-8 -8,7.5 s 8,-2.5 8,7.5 v 5 H 0 V 20 c 0,-10 -8,8 -8,-7.5 s 8,2.5 8,-7.5 z" fill="#93244c"/>
<path transform="translate(677,1682)" d="M 0,0 H 77.81 H 77.81 v 5 c 0,10 -8,-8 -8,7.5 s 8,-2.5 8,7.5 v 5 H 0 V 20 c 0,-10 -8,8 -8,-7.5 s 8,2.5 8,-7.5 z" fill="#B82D5F" fill-rule="evenodd"/>
<path transform="translate(677,1682)" d="M 1,1 H 77.81" class="hl" stroke="#cd6c8f"/>
<path transform="translate(677,1682)" d="M 1,25 V 20 M 1,5 V 1" class="hl" stroke="#cd6c8f"/>
<path transform="translate(678,1760)" d="M 0,0 H 196 H 196 v 5 c 0,10 -8,-8 -8,7.5 s 8,-2.5 8,7.5 v 6 H 196 v 5 c 0,10 -8,-8 -8,7.5 s 8,-2.5 8,7.5 v 5 H 0 V 20 c 0,-10 -8,8 -8,-7.5 s 8,2.5 8,-7.5 z" fill="#325a90"/>
<path transform="translate(677,1759)" d="M 0,0 H 196 H 196 v 5 c 0,10 -8,-8 -8,7.5 s 8,-2.5 8,7.5 v 6 H 196 v 5 c 0,10 -8,-8 -8,7.5 s 8,-2.5 8,7.5 v 5 H 0 V 20 c 0,-10 -8,8 -8,-7.5 s 8,2.5 8,-7.5 z" fill="#3F71B5" fill-rule="evenodd"/>
<path transform="translate(677,1759)" d="M 1,1 H 196" class="hl" stroke="#789bcb"/>
<path transform="translate(677,1759)" d="M 1,51 V 20 M 1,5 V 1" class="hl" stroke="#789bcb"/>
<path transform="translate(678,1863)" d="M 0,0 H 249.05 H 249.05 v 25 H 249.05 v 5 c 0,10 -8,-8 -8,7.5 s 8,-2.5 8,7.5 v 6 H 249.05 v 5 c 0,10 -8,-8 -8,7.5 s 8,-2.5 8,7.5 v 5 H 0 V 20 c 0,-10 -8,8 -8,-7.5 s 8,2.5 8,-7.5 z" fill="#63426a"/>
<path transform="translate(677,1862)" d="M 0,0 H 249.05 H 249.05 v 25 H 249.05 v 5 c 0,10 -8,-8 -8,7.5 s 8,-2.5 8,7.5 v 6 H 249.05 v 5 c 0,10 -8,-8 -8,7.5 s 8,-2.5 8,7.5 v 5 H 0 V 20 c 0,-10 -8,8 -8,-7.5 s 8,2.5 8,-7.5 z" fill="#7C5385" fill-rule="evenodd"/>
<path transform="translate(677,1862)" d="M 1,1 H 249.05" class="hl" stroke="#a386a9"/>
<path transform="translate(677,1862)" d="M 1,76 V 20 M 1,5 V 1" class="hl" stroke="#a386a9"/>
<path transform="translate(412.69,2188)" d="M 0,0 H 151.8 H 151.8 v 5 c 0,10 -8,-8 -8,7.5 s 8,-2.5 8,7.5 v 6 H 151.8 v 5 c 0,10 -8,-8 -8,7.5 s 8,-2.5 8,7.5 v 5 H 0 V 20 c 0,-10 -8,8 -8,-7.5 s 8,2.5 8,-7.5 z" fill="#3a84a9"/>
<path transform="translate(411.69,2187)" d="M 0,0 H 151.8 H 151.8 v 5 c 0,10 -8,-8 -8,7.5 s 8,-2.5 8,7.5 v 6 H 151.8 v 5 c 0,10 -8,-8 -8,7.5 s 8,-2.5 8,7.5 v 5 H 0 V 20 c 0,-10 -8,8 -8,-7.5 s 8,2.5 8,-7.5 z" fill="#49A6D4" fill-rule="evenodd"/>
<path transform="translate(411.69,2187)" d="M 1,1 H 151.8" class="hl" stroke="#7fc0e0"/>
<path transform="translate(411.69,2187)" d="M 1,51 V 20 M 1,5 V 1" class="hl" stroke="#7fc0e0"/>
<path transform="translate(406.53,2265)" d="M 0,0 H 151.8 H 151.8 v 5 c 0,10 -8,-8 -8,7.5 s 8,-2.5 8,7.5 v 6 H 151.8 v 5 c 0,10 -8,-8 -8,7.5 s 8,-2.5 8,7.5 v 5 H 0 V 20 c 0,-10 -8,8 -8,-7.5 s 8,2.5 8,-7.5 z" fill="#3a84a9"/>
<path transform="translate(405.53,2264)" d="M 0,0 H 151.8 H 151.8 v 5 c 0,10 -8,-8 -8,7.5 s 8,-2.5 8,7.5 v 6 H 151.8 v 5 c 0,10 -8,-8 -8,7.5 s 8,-2.5 8,7.5 v 5 H 0 V 20 c 0,-10 -8,8 -8,-7.5 s 8,2.5 8,-7.5 z" fill="#49A6D4" fill-rule="evenodd"/>
<path transform="translate(405.53,2264)" d="M 1,1 H 151.8" class="hl" stroke="#7fc0e0"/>
<path transform="translate(405.53,2264)" d="M 1,51 V 20 M 1,5 V 1" class="hl" stroke="#7fc0e0"/>
<path transform="translate(406.53,2317)" d="M 0,0 H 66.7 H 66.7 v 25 H 0 V 20 c 0,-10 -8,8 -8,-7.5 s 8,2.5 8,-7.5 z" fill="#5f8834"/>
<path transform="translate(405.53,2316)" d="M 0,0 H 66.7 H 66.7 v 25 H 0 V 20 c 0,-10 -8,8 -8,-7.5 s 8,2.5 8,-7.5 z" fill="#77AB41" fill-rule="evenodd"/>
<path transform="translate(405.53,2316)" d="M 1,1 H 66.7" class="hl" stroke="#9fc47a"/>
<path transform="translate(405.53,2316)" d="M 1,25 V 20 M 1,5 V 1" class="hl" stroke="#9fc47a"/>
<path transform="translate(499.06,128)" d="M 0,0 H 106.49 H 106.49 v 25 H 0 V 20 c 0,-10 -8,8 -8,-7.5 s 8,2.5 8,-7.5 z" fill="#a64c24"/>
<path transform="translate(498.06,127)" d="M 0,0 H 106.49 H 106.49 v 25 H 0 V 20 c 0,-10 -8,8 -8,-7.5 s 8,2.5 8,-7.5 z" fill="#D05F2D" fill-rule="evenodd"/>
<path transform="translate(498.06,127)" d="M 1,1 H 106.49" class="hl" stroke="#de8f6c"/>
<path transform="translate(498.06,127)" d="M 1,25 V 20 M 1,5 V 1" class="hl" stroke="#de8f6c"/>
<path transform="translate(499.06,154)" d="M 0,0 H 28.16 H 28.16 v 25 H 0 V 20 c 0,-10 -8,8 -8,-7.5 s 8,2.5 8,-7.5 z" fill="#325a90"/>
<path transform="translate(498.06,153)" d="M 0,0 H 28.16 H 28.16 v 25 H 0 V 20 c 0,-10 -8,8 -8,-7.5 s 8,2.5 8,-7.5 z" fill="#3F71B5" fill-rule="evenodd"/>
<path transform="translate(498.06,153)" d="M 1,1 H 28.16" class="hl" stroke="#789bcb"/>
<path transform="translate(498.06,153)" d="M 1,25 V 20 M 1,5 V 1" class="hl" stroke="#789bcb"/>
<path transform="translate(789.43,128)" d="M 0,0 H 106.49 H 106.49 v 25 H 0 V 20 c 0,-10 -8,8 -8,-7.5 s 8,2.5 8,-7.5 z" fill="#a64c24"/>
<path transform="translate(788.43,127)" d="M 0,0 H 106.49 H 106.49 v 25 H 0 V 20 c 0,-10 -8,8 -8,-7.5 s 8,2.5 8,-7.5 z" fill="#D05F2D" fill-rule="evenodd"/>
<path transform="translate(788.43,127)" d="M 1,1 H 106.49" class="hl" stroke="#de8f6c"/>
<path transform="translate(788.43,127)" d="M 1,25 V 20 M 1,5 V 1" class="hl" stroke="#de8f6c"/>
<path transform="translate(789.43,154)" d="M 0,0 H 28.16 H 28.16 v 25 H 0 V 20 c 0,-10 -8,8 -8,-7.5 s 8,2.5 8,-7.5 z" fill="#325a90"/>
<path transform="translate(788.43,153)" d="M 0,0 H 28.16 H 28.16 v 25 H 0 V 20 c 0,-10 -8,8 -8,-7.5 s 8,2.5 8,-7.5 z" fill="#3F71B5" fill-rule="evenodd"/>
<path transform="translate(788.43,153)" d="M 1,1 H 28.16" class="hl" stroke="#789bcb"/>
<path transform="translate(788.43,153)" d="M 1,25 V 20 M 1,5 V 1" class="hl" stroke="#789bcb"/>
<path transform="translate(626.94,300)" d="M 0,0 H 127.4 H 127.4 v 5 c 0,10 -8,-8 -8,7.5 s 8,-2.5 8,7.5 v 6 H 127.4 v 5 c 0,10 -8,-8 -8,7.5 s 8,-2.5 8,7.5 v 5 H 0 V 20 c 0,-10 -8,8 -8,-7.5 s 8,2.5 8,-7.5 z" fill="#3a84a9"/>
<path transform="translate(625.94,299)" d="M 0,0 H 127.4 H 127.4 v 5 c 0,10 -8,-8 -8,7.5 s 8,-2.5 8,7.5 v 6 H 127.4 v 5 c 0,10 -8,-8 -8,7.5 s 8,-2.5 8,7.5 v 5 H 0 V 20 c 0,-10 -8,8 -8,-7.5 s 8,2.5 8,-7.5 z" fill="#49A6D4" fill-rule="evenodd"/>
<path transform="translate(625.94,299)" d="M 1,1 H 127.4" class="hl" stroke="#7fc0e0"/>
<path transform="translate(625.94,299)" d="M 1,51 V 20 M 1,5 V 1" class="hl" stroke="#7fc0e0"/>
<path transform="translate(626.94,352)" d="M 0,0 H 127.4 H 127.4 v 5 c 0,10 -8,-8 -8,7.5 s 8,-2.5 8,7.5 v 6 H 127.4 v 5 c 0,10 -8,-8 -8,7.5 s 8,-2.5 8,7.5 v 109 H 0 V 20 c 0,-10 -8,8 -8,-7.5 s 8,2.5 8,-7.5 z" fill="#3a84a9"/>
<path transform="translate(625.94,351)" d="M 0,0 H 127.4 H 127.4 v 5 c 0,10 -8,-8 -8,7.5 s 8,-2.5 8,7.5 v 6 H 127.4 v 5 c 0,10 -8,-8 -8,7.5 s 8,-2.5 8,7.5 v 109 H 0 V 20 c 0,-10 -8,8 -8,-7.5 s 8,2.5 8,-7.5 z" fill="#49A6D4" fill-rule="evenodd"/>
<path transform="translate(625.94,351)" d="M 1,1 H 127.4" class="hl" stroke="#7fc0e0"/>
<path transform="translate(625.94,351)" d="M 1,155 V 20 M 1,5 V 1" class="hl" stroke="#7fc0e0"/>
<path transform="translate(626.94,574)" d="M 0,0 H 127.4 H 127.4 v 5 c 0,10 -8,-8 -8,7.5 s 8,-2.5 8,7.5 v 6 H 127.4 v 5 c 0,10 -8,-8 -8,7.5 s 8,-2.5 8,7.5 v 5 H 0 V 20 c 0,-10 -8,8 -8,-7.5 s 8,2.5 8,-7.5 z" fill="#3a84a9"/>
<path transform="translate(625.94,573)" d="M 0,0 H 127.4 H 127.4 v 5 c 0,10 -8,-8 -8,7.5 s 8,-2.5 8,7.5 v 6 H 127.4 v 5 c 0,10 -8,-8 -8,7.5 s 8,-2.5 8,7.5 v 5 H 0 V 20 c 0,-10 -8,8 -8,-7.5 s 8,2.5 8,-7.5 z" fill="#49A6D4" fill-rule="evenodd"/>
<path transform="translate(625.94,573)" d="M 1,1 H 127.4" class="hl" stroke="#7fc0e0"/>
<path transform="translate(625.94,573)" d="M 1,51 V 20 M 1,5 V 1" class="hl" stroke="#7fc0e0"/>
<path transform="translate(626.94,626)" d="M 0,0 H 127.4 H 127.4 v 5 c 0,10 -8,-8 -8,7.5 s 8,-2.5 8,7.5 v 6 H 127.4 v 5 c 0,10 -8,-8 -8,7.5 s 8,-2.5 8,7.5 v 109 H 0 V 20 c 0,-10 -8,8 -8,-7.5 s 8,2.5 8,-7.5 z" fill="#3a84a9"/>
<path transform="translate(625.94,625)" d="M 0,0 H 127.4 H 127.4 v 5 c 0,10 -8,-8 -8,7.5 s 8,-2.5 8,7.5 v 6 H 127.4 v 5 c 0,10 -8,-8 -8,7.5 s 8,-2.5 8,7.5 v 109 H 0 V 20 c 0,-10 -8,8 -8,-7.5 s 8,2.5 8,-7.5 z" fill="#49A6D4" fill-rule="evenodd"/>
<path transform="translate(625.94,625)" d="M 1,1 H 127.4" class="hl" stroke="#7fc0e0"/>
<path transform="translate(625.94,625)" d="M 1,155 V 20 M 1,5 V 1" class="hl" stroke="#7fc0e0"/>
<path transform="translate(727.4,1219)" d="M 0,0 H 77.81 H 77.81 v 5 c 0,10 -8,-8 -8,7.5 s 8,-2.5 8,7.5 v 6 H 77.81 v 5 c 0,10 -8,-8 -8,7.5 s 8,-2.5 8,7.5 v 6 H 77.81 v 5 c 0,10 -8,-8 -8,7.5 s 8,-2.5 8,7.5 v 31 H 0 V 20 c 0,-10 -8,8 -8,-7.5 s 8,2.5 8,-7.5 z" fill="#93244c"/>
<path transform="translate(726.4,1218)" d="M 0,0 H 77.81 H 77.81 v 5 c 0,10 -8,-8 -8,7.5 s 8,-2.5 8,7.5 v 6 H 77.81 v 5 c 0,10 -8,-8 -8,7.5 s 8,-2.5 8,7.5 v 6 H 77.81 v 5 c 0,10 -8,-8 -8,7.5 s 8,-2.5 8,7.5 v 31 H 0 V 20 c 0,-10 -8,8 -8,-7.5 s 8,2.5 8,-7.5 z" fill="#B82D5F" fill-rule="evenodd"/>
<path transform="translate(726.4,1218)" d="M 1,1 H 77.81" class="hl" stroke="#cd6c8f"/>
<path transform="translate(726.4,1218)" d="M 1,103 V 20 M 1,5 V 1" class="hl" stroke="#cd6c8f"/>
<path transform="translate(727.4,1374)" d="M 0,0 H 196 H 196 v 5 c 0,10 -8,-8 -8,7.5 s 8,-2.5 8,7.5 v 6 H 196 v 5 c 0,10 -8,-8 -8,7.5 s 8,-2.5 8,7.5 v 5 H 0 V 20 c 0,-10 -8,8 -8,-7.5 s 8,2.5 8,-7.5 z" fill="#325a90"/>
<path transform="translate(726.4,1373)" d="M 0,0 H 196 H 196 v 5 c 0,10 -8,-8 -8,7.5 s 8,-2.5 8,7.5 v 6 H 196 v 5 c 0,10 -8,-8 -8,7.5 s 8,-2.5 8,7.5 v 5 H 0 V 20 c 0,-10 -8,8 -8,-7.5 s 8,2.5 8,-7.5 z" fill="#3F71B5" fill-rule="evenodd"/>
<path transform="translate(726.4,1373)" d="M 1,1 H 196" class="hl" stroke="#789bcb"/>
<path transform="translate(726.4,1373)" d="M 1,51 V 20 M 1,5 V 1" class="hl" stroke="#789bcb"/>
<path transform="translate(727.4,1477)" d="M 0,0 H 249.05 H 249.05 v 25 H 249.05 v 5 c 0,10 -8,-8 -8,7.5 s 8,-2.5 8,7.5 v 6 H 249.05 v 5 c 0,10 -8,-8 -8,7.5 s 8,-2.5 8,7.5 v 5 H 0 V 20 c 0,-10 -8,8 -8,-7.5 s 8,2.5 8,-7.5 z" fill="#63426a"/>
<path transform="translate(726.4,1476)" d="M 0,0 H 249.05 H 249.05 v 25 H 249.05 v 5 c 0,10 -8,-8 -8,7.5 s 8,-2.5 8,7.5 v 6 H 249.05 v 5 c 0,10 -8,-8 -8,7.5 s 8,-2.5 8,7.5 v 5 H 0 V 20 c 0,-10 -8,8 -8,-7.5 s 8,2.5 8,-7.5 z" fill="#7C5385" fill-rule="evenodd"/>
<path transform="translate(726.4,1476)" d="M 1,1 H 249.05" class="hl" stroke="#a386a9"/>
<path transform="translate(726.4,1476)" d="M 1,76 V 20 M 1,5 V 1" class="hl" stroke="#a386a9"/>
<path transform="translate(756.31,1683)" d="M 0,0 H 199.99 H 199.99 v 25 H 0 V 20 c 0,-10 -8,8 -8,-7.5 s 8,2.5 8,-7.5 z" fill="#a64c24"/>
<path transform="translate(755.31,1682)" d="M 0,0 H 199.99 H 199.99 v 25 H 0 V 20 c 0,-10 -8,8 -8,-7.5 s 8,2.5 8,-7.5 z" fill="#D05F2D" fill-rule="evenodd"/>
<path transform="translate(755.31,1682)" d="M 1,1 H 199.99" class="hl" stroke="#de8f6c"/>
<path transform="translate(755.31,1682)" d="M 1,25 V 20 M 1,5 V 1" class="hl" stroke="#de8f6c"/>
<path transform="translate(874.5,1760)" d="M 0,0 H 227.89 H 227.89 v 25 H 0 V 20 c 0,-10 -8,8 -8,-7.5 s 8,2.5 8,-7.5 z" fill="#a64c24"/>
<path transform="translate(873.5,1759)" d="M 0,0 H 227.89 H 227.89 v 25 H 0 V 20 c 0,-10 -8,8 -8,-7.5 s 8,2.5 8,-7.5 z" fill="#D05F2D" fill-rule="evenodd"/>
<path transform="translate(873.5,1759)" d="M 1,1 H 227.89" class="hl" stroke="#de8f6c"/>
<path transform="translate(873.5,1759)" d="M 1,25 V 20 M 1,5 V 1" class="hl" stroke="#de8f6c"/>
<path transform="translate(874.5,1786)" d="M 0,0 H 28.16 H 28.16 v 25 H 0 V 20 c 0,-10 -8,8 -8,-7.5 s 8,2.5 8,-7.5 z" fill="#325a90"/>
<path transform="translate(873.5,1785)" d="M 0,0 H 28.16 H 28.16 v 25 H 0 V 20 c 0,-10 -8,8 -8,-7.5 s 8,2.5 8,-7.5 z" fill="#3F71B5" fill-rule="evenodd"/>
<path transform="translate(873.5,1785)" d="M 1,1 H 28.16" class="hl" stroke="#789bcb"/>
<path transform="translate(873.5,1785)" d="M 1,25 V 20 M 1,5 V 1" class="hl" stroke="#789bcb"/>
<path transform="translate(927.55,1888)" d="M 0,0 H 160.95 H 160.95 v 25 H 0 V 20 c 0,-10 -8,8 -8,-7.5 s 8,2.5 8,-7.5 z" fill="#63426a"/>
<path transform="translate(926.55,1887)" d="M 0,0 H 160.95 H 160.95 v 25 H 0 V 20 c 0,-10 -8,8 -8,-7.5 s 8,2.5 8,-7.5 z" fill="#7C5385" fill-rule="evenodd"/>
<path transform="translate(926.55,1887)" d="M 1,1 H 160.95" class="hl" stroke="#a386a9"/>
<path transform="translate(926.55,1887)" d="M 1,25 V 20 M 1,5 V 1" class="hl" stroke="#a386a9"/>
<path transform="translate(927.55,1914)" d="M 0,0 H 210.8 H 210.8 v 25 H 0 V 20 c 0,-10 -8,8 -8,-7.5 s 8,2.5 8,-7.5 z" fill="#93244c"/>
<path transform="translate(926.55,1913)" d="M 0,0 H 210.8 H 210.8 v 25 H 0 V 20 c 0,-10 -8,8 -8,-7.5 s 8,2.5 8,-7.5 z" fill="#B82D5F" fill-rule="evenodd"/>
<path transform="translate(926.55,1913)" d="M 1,1 H 210.8" class="hl" stroke="#cd6c8f"/>
<path transform="translate(926.55,1913)" d="M 1,25 V 20 M 1,5 V 1" class="hl" stroke="#cd6c8f"/>
<path transform="translate(564.99,2188)" d="M 0,0 H 215.79 H 215.79 v 25 H 0 V 20 c 0,-10 -8,8 -8,-7.5 s 8,2.5 8,-7.5 z" fill="#a64c24"/>
<path transform="translate(563.99,2187)" d="M 0,0 H 215.79 H 215.79 v 25 H 0 V 20 c 0,-10 -8,8 -8,-7.5 s 8,2.5 8,-7.5 z" fill="#D05F2D" fill-rule="evenodd"/>
<path transform="translate(563.99,2187)" d="M 1,1 H 215.79" class="hl" stroke="#de8f6c"/>
<path transform="translate(563.99,2187)" d="M 1,25 V 20 M 1,5 V 1" class="hl" stroke="#de8f6c"/>
<path transform="translate(564.99,2214)" d="M 0,0 H 113.39 H 113.39 v 25 H 0 V 20 c 0,-10 -8,8 -8,-7.5 s 8,2.5 8,-7.5 z" fill="#a64c24"/>
<path transform="translate(563.99,2213)" d="M 0,0 H 113.39 H 113.39 v 25 H 0 V 20 c 0,-10 -8,8 -8,-7.5 s 8,2.5 8,-7.5 z" fill="#D05F2D" fill-rule="evenodd"/>
<path transform="translate(563.99,2213)" d="M 1,1 H 113.39" class="hl" stroke="#de8f6c"/>
<path transform="translate(563.99,2213)" d="M 1,25 V 20 M 1,5 V 1" class="hl" stroke="#de8f6c"/>
<path transform="translate(558.83,2265)" d="M 0,0 H 215.79 H 215.79 v 25 H 0 V 20 c 0,-10 -8,8 -8,-7.5 s 8,2.5 8,-7.5 z" fill="#a64c24"/>
<path transform="translate(557.83,2264)" d="M 0,0 H 215.79 H 215.79 v 25 H 0 V 20 c 0,-10 -8,8 -8,-7.5 s 8,2.5 8,-7.5 z" fill="#D05F2D" fill-rule="evenodd"/>
<path transform="translate(557.83,2264)" d="M 1,1 H 215.79" class="hl" stroke="#de8f6c"/>
<path transform="translate(557.83,2264)" d="M 1,25 V 20 M 1,5 V 1" class="hl" stroke="#de8f6c"/>
<path transform="translate(558.83,2291)" d="M 0,0 H 113.39 H 113.39 v 25 H 0 V 20 c 0,-10 -8,8 -8,-7.5 s 8,2.5 8,-7.5 z" fill="#a64c24"/>
<path transform="translate(557.83,2290)" d="M 0,0 H 113.39 H 113.39 v 25 H 0 V 20 c 0,-10 -8,8 -8,-7.5 s 8,2.5 8,-7.5 z" fill="#D05F2D" fill-rule="evenodd"/>
<path transform="translate(557.83,2290)" d="M 1,1 H 113.39" class="hl" stroke="#de8f6c"/>
<path transform="translate(557.83,2290)" d="M 1,25 V 20 M 1,5 V 1" class="hl" stroke="#de8f6c"/>
<path transform="translate(754.84,300)" d="M 0,0 H 241.8 H 241.8 v 25 H 0 V 20 c 0,-10 -8,8 -8,-7.5 s 8,2.5 8,-7.5 z" fill="#93244c"/>
<path transform="translate(753.84,299)" d="M 0,0 H 241.8 H 241.8 v 25 H 0 V 20 c 0,-10 -8,8 -8,-7.5 s 8,2.5 8,-7.5 z" fill="#B82D5F" fill-rule="evenodd"/>
<path transform="translate(753.84,299)" d="M 1,1 H 241.8" class="hl" stroke="#cd6c8f"/>
<path transform="translate(753.84,299)" d="M 1,25 V 20 M 1,5 V 1" class="hl" stroke="#cd6c8f"/>
<path transform="translate(754.84,326)" d="M 0,0 H 134.8 H 134.8 v 25 H 0 V 20 c 0,-10 -8,8 -8,-7.5 s 8,2.5 8,-7.5 z" fill="#93244c"/>
<path transform="translate(753.84,325)" d="M 0,0 H 134.8 H 134.8 v 25 H 0 V 20 c 0,-10 -8,8 -8,-7.5 s 8,2.5 8,-7.5 z" fill="#B82D5F" fill-rule="evenodd"/>
<path transform="translate(753.84,325)" d="M 1,1 H 134.8" class="hl" stroke="#cd6c8f"/>
<path transform="translate(753.84,325)" d="M 1,25 V 20 M 1,5 V 1" class="hl" stroke="#cd6c8f"/>
<path transform="translate(754.84,352)" d="M 0,0 H 210.3 H 210.3 v 25 H 0 V 20 c 0,-10 -8,8 -8,-7.5 s 8,2.5 8,-7.5 z" fill="#93244c"/>
<path transform="translate(753.84,351)" d="M 0,0 H 210.3 H 210.3 v 25 H 0 V 20 c 0,-10 -8,8 -8,-7.5 s 8,2.5 8,-7.5 z" fill="#B82D5F" fill-rule="evenodd"/>
<path transform="translate(753.84,351)" d="M 1,1 H 210.3" class="hl" stroke="#cd6c8f"/>
<path transform="translate(753.84,351)" d="M 1,25 V 20 M 1,5 V 1" class="hl" stroke="#cd6c8f"/>
<path transform="translate(754.84,378)" d="M 0,0 H 77.81 H 77.81 v 5 c 0,10 -8,-8 -8,7.5 s 8,-2.5 8,7.5 v 6 H 77.81 v 5 c 0,10 -8,-8 -8,7.5 s 8,-2.5 8,7.5 v 58 H 77.81 v 5 c 0,10 -8,-8 -8,7.5 s 8,-2.5 8,7.5 v 5 H 0 V 20 c 0,-10 -8,8 -8,-7.5 s 8,2.5 8,-7.5 z" fill="#93244c"/>
<path transform="translate(753.84,377)" d="M 0,0 H 77.81 H 77.81 v 5 c 0,10 -8,-8 -8,7.5 s 8,-2.5 8,7.5 v 6 H 77.81 v 5 c 0,10 -8,-8 -8,7.5 s 8,-2.5 8,7.5 v 58 H 77.81 v 5 c 0,10 -8,-8 -8,7.5 s 8,-2.5 8,7.5 v 5 H 0 V 20 c 0,-10 -8,8 -8,-7.5 s 8,2.5 8,-7.5 z" fill="#B82D5F" fill-rule="evenodd"/>
<path transform="translate(753.84,377)" d="M 1,1 H 77.81" class="hl" stroke="#cd6c8f"/>
<path transform="translate(753.84,377)" d="M 1,129 V 20 M 1,5 V 1" class="hl" stroke="#cd6c8f"/>
<path transform="translate(754.84,574)" d="M 0,0 H 241.8 H 241.8 v 25 H 0 V 20 c 0,-10 -8,8 -8,-7.5 s 8,2.5 8,-7.5 z" fill="#93244c"/>
<path transform="translate(753.84,573)" d="M 0,0 H 241.8 H 241.8 v 25 H 0 V 20 c 0,-10 -8,8 -8,-7.5 s 8,2.5 8,-7.5 z" fill="#B82D5F" fill-rule="evenodd"/>
<path transform="translate(753.84,573)" d="M 1,1 H 241.8" class="hl" stroke="#cd6c8f"/>
<path transform="translate(753.84,573)" d="M 1,25 V 20 M 1,5 V 1" class="hl" stroke="#cd6c8f"/>
<path transform="translate(754.84,600)" d="M 0,0 H 134.8 H 134.8 v 25 H 0 V 20 c 0,-10 -8,8 -8,-7.5 s 8,2.5 8,-7.5 z" fill="#93244c"/>
<path transform="translate(753.84,599)" d="M 0,0 H 134.8 H 134.8 v 25 H 0 V 20 c 0,-10 -8,8 -8,-7.5 s 8,2.5 8,-7.5 z" fill="#B82D5F" fill-rule="evenodd"/>
<path transform="translate(753.84,599)" d="M 1,1 H 134.8" class="hl" stroke="#cd6c8f"/>
<path transform="translate(753.84,599)" d="M 1,25 V 20 M 1,5 V 1" class="hl" stroke="#cd6c8f"/>
<path transform="translate(754.84,626)" d="M 0,0 H 210.3 H 210.3 v 25 H 0 V 20 c 0,-10 -8,8 -8,-7.5 s 8,2.5 8,-7.5 z" fill="#93244c"/>
<path transform="translate(753.84,625)" d="M 0,0 H 210.3 H 210.3 v 25 H 0 V 20 c 0,-10 -8,8 -8,-7.5 s 8,2.5 8,-7.5 z" fill="#B82D5F" fill-rule="evenodd"/>
<path transform="translate(753.84,625)" d="M 1,1 H 210.3" class="hl" stroke="#cd6c8f"/>
<path transform="translate(753.84,625)" d="M 1,25 V 20 M 1,5 V 1" class="hl" stroke="#cd6c8f"/>
<path transform="translate(754.84,652)" d="M 0,0 H 77.81 H 77.81 v 5 c 0,10 -8,-8 -8,7.5 s 8,-2.5 8,7.5 v 6 H 77.81 v 5 c 0,10 -8,-8 -8,7.5 s 8,-2.5 8,7.5 v 58 H 77.81 v 5 c 0,10 -8,-8 -8,7.5 s 8,-2.5 8,7.5 v 5 H 0 V 20 c 0,-10 -8,8 -8,-7.5 s 8,2.5 8,-7.5 z" fill="#93244c"/>
<path transform="translate(753.84,651)" d="M 0,0 H 77.81 H 77.81 v 5 c 0,10 -8,-8 -8,7.5 s 8,-2.5 8,7.5 v 6 H 77.81 v 5 c 0,10 -8,-8 -8,7.5 s 8,-2.5 8,7.5 v 58 H 77.81 v 5 c 0,10 -8,-8 -8,7.5 s 8,-2.5 8,7.5 v 5 H 0 V 20 c 0,-10 -8,8 -8,-7.5 s 8,2.5 8,-7.5 z" fill="#B82D5F" fill-rule="evenodd"/>
<path transform="translate(753.84,651)" d="M 1,1 H 77.81" class="hl" stroke="#cd6c8f"/>
<path transform="translate(753.84,651)" d="M 1,129 V 20 M 1,5 V 1" class="hl" stroke="#cd6c8f"/>
<path transform="translate(805.71,1219)" d="M 0,0 H 199.99 H 199.99 v 25 H 0 V 20 c 0,-10 -8,8 -8,-7.5 s 8,2.5 8,-7.5 z" fill="#a64c24"/>
<path transform="translate(804.71,1218)" d="M 0,0 H 199.99 H 199.99 v 25 H 0 V 20 c 0,-10 -8,8 -8,-7.5 s 8,2.5 8,-7.5 z" fill="#D05F2D" fill-rule="evenodd"/>
<path transform="translate(804.71,1218)" d="M 1,1 H 199.99" class="hl" stroke="#de8f6c"/>
<path transform="translate(804.71,1218)" d="M 1,25 V 20 M 1,5 V 1" class="hl" stroke="#de8f6c"/>
<path transform="translate(805.71,1245)" d="M 0,0 H 53.7 H 53.7 v 25 H 0 V 20 c 0,-10 -8,8 -8,-7.5 s 8,2.5 8,-7.5 z" fill="#93244c"/>
<path transform="translate(804.71,1244)" d="M 0,0 H 53.7 H 53.7 v 25 H 0 V 20 c 0,-10 -8,8 -8,-7.5 s 8,2.5 8,-7.5 z" fill="#B82D5F" fill-rule="evenodd"/>
<path transform="translate(804.71,1244)" d="M 1,1 H 53.7" class="hl" stroke="#cd6c8f"/>
<path transform="translate(804.71,1244)" d="M 1,25 V 20 M 1,5 V 1" class="hl" stroke="#cd6c8f"/>
<path transform="translate(805.71,1271)" d="M 0,0 H 151.8 H 151.8 v 5 c 0,10 -8,-8 -8,7.5 s 8,-2.5 8,7.5 v 6 H 151.8 v 5 c 0,10 -8,-8 -8,7.5 s 8,-2.5 8,7.5 v 5 H 0 V 20 c 0,-10 -8,8 -8,-7.5 s 8,2.5 8,-7.5 z" fill="#3a84a9"/>
<path transform="translate(804.71,1270)" d="M 0,0 H 151.8 H 151.8 v 5 c 0,10 -8,-8 -8,7.5 s 8,-2.5 8,7.5 v 6 H 151.8 v 5 c 0,10 -8,-8 -8,7.5 s 8,-2.5 8,7.5 v 5 H 0 V 20 c 0,-10 -8,8 -8,-7.5 s 8,2.5 8,-7.5 z" fill="#49A6D4" fill-rule="evenodd"/>
<path transform="translate(804.71,1270)" d="M 1,1 H 151.8" class="hl" stroke="#7fc0e0"/>
<path transform="translate(804.71,1270)" d="M 1,51 V 20 M 1,5 V 1" class="hl" stroke="#7fc0e0"/>
<path transform="translate(923.9,1374)" d="M 0,0 H 227.89 H 227.89 v 25 H 0 V 20 c 0,-10 -8,8 -8,-7.5 s 8,2.5 8,-7.5 z" fill="#a64c24"/>
<path transform="translate(922.9,1373)" d="M 0,0 H 227.89 H 227.89 v 25 H 0 V 20 c 0,-10 -8,8 -8,-7.5 s 8,2.5 8,-7.5 z" fill="#D05F2D" fill-rule="evenodd"/>
<path transform="translate(922.9,1373)" d="M 1,1 H 227.89" class="hl" stroke="#de8f6c"/>
<path transform="translate(922.9,1373)" d="M 1,25 V 20 M 1,5 V 1" class="hl" stroke="#de8f6c"/>
<path transform="translate(923.9,1400)" d="M 0,0 H 28.16 H 28.16 v 25 H 0 V 20 c 0,-10 -8,8 -8,-7.5 s 8,2.5 8,-7.5 z" fill="#325a90"/>
<path transform="translate(922.9,1399)" d="M 0,0 H 28.16 H 28.16 v 25 H 0 V 20 c 0,-10 -8,8 -8,-7.5 s 8,2.5 8,-7.5 z" fill="#3F71B5" fill-rule="evenodd"/>
<path transform="translate(922.9,1399)" d="M 1,1 H 28.16" class="hl" stroke="#789bcb"/>
<path transform="translate(922.9,1399)" d="M 1,25 V 20 M 1,5 V 1" class="hl" stroke="#789bcb"/>
<path transform="translate(976.95,1502)" d="M 0,0 H 160.95 H 160.95 v 25 H 0 V 20 c 0,-10 -8,8 -8,-7.5 s 8,2.5 8,-7.5 z" fill="#63426a"/>
<path transform="translate(975.95,1501)" d="M 0,0 H 160.95 H 160.95 v 25 H 0 V 20 c 0,-10 -8,8 -8,-7.5 s 8,2.5 8,-7.5 z" fill="#7C5385" fill-rule="evenodd"/>
<path transform="translate(975.95,1501)" d="M 1,1 H 160.95" class="hl" stroke="#a386a9"/>
<path transform="translate(975.95,1501)" d="M 1,25 V 20 M 1,5 V 1" class="hl" stroke="#a386a9"/>
<path transform="translate(976.95,1528)" d="M 0,0 H 210.8 H 210.8 v 25 H 0 V 20 c 0,-10 -8,8 -8,-7.5 s 8,2.5 8,-7.5 z" fill="#93244c"/>
<path transform="translate(975.95,1527)" d="M 0,0 H 210.8 H 210.8 v 25 H 0 V 20 c 0,-10 -8,8 -8,-7.5 s 8,2.5 8,-7.5 z" fill="#B82D5F" fill-rule="evenodd"/>
<path transform="translate(975.95,1527)" d="M 1,1 H 210.8" class="hl" stroke="#cd6c8f"/>
<path transform="translate(975.95,1527)" d="M 1,25 V 20 M 1,5 V 1" class="hl" stroke="#cd6c8f"/>
<path transform="translate(833.15,378)" d="M 0,0 H 219.8 H 219.8 v 25 H 0 V 20 c 0,-10 -8,8 -8,-7.5 s 8,2.5 8,-7.5 z" fill="#93244c"/>
<path transform="translate(832.15,377)" d="M 0,0 H 219.8 H 219.8 v 25 H 0 V 20 c 0,-10 -8,8 -8,-7.5 s 8,2.5 8,-7.5 z" fill="#B82D5F" fill-rule="evenodd"/>
<path transform="translate(832.15,377)" d="M 1,1 H 219.8" class="hl" stroke="#cd6c8f"/>
<path transform="translate(832.15,377)" d="M 1,25 V 20 M 1,5 V 1" class="hl" stroke="#cd6c8f"/>
<path transform="translate(833.15,404)" d="M 0,0 H 122.53 H 122.53 v 5 c 0,10 -8,-8 -8,7.5 s 8,-2.5 8,7.5 v 6 H 122.53 v 5 c 0,10 -8,-8 -8,7.5 s 8,-2.5 8,7.5 v 6 H 122.53 v 5 c 0,10 -8,-8 -8,7.5 s 8,-2.5 8,7.5 v 5 H 0 V 20 c 0,-10 -8,8 -8,-7.5 s 8,2.5 8,-7.5 z" fill="#93244c"/>
<path transform="translate(832.15,403)" d="M 0,0 H 122.53 H 122.53 v 5 c 0,10 -8,-8 -8,7.5 s 8,-2.5 8,7.5 v 6 H 122.53 v 5 c 0,10 -8,-8 -8,7.5 s 8,-2.5 8,7.5 v 6 H 122.53 v 5 c 0,10 -8,-8 -8,7.5 s 8,-2.5 8,7.5 v 5 H 0 V 20 c 0,-10 -8,8 -8,-7.5 s 8,2.5 8,-7.5 z" fill="#B82D5F" fill-rule="evenodd"/>
<path transform="translate(832.15,403)" d="M 1,1 H 122.53" class="hl" stroke="#cd6c8f"/>
<path transform="translate(832.15,403)" d="M 1,77 V 20 M 1,5 V 1" class="hl" stroke="#cd6c8f"/>
<path transform="translate(833.15,482)" d="M 0,0 H 113.5 H 113.5 v 25 H 0 V 20 c 0,-10 -8,8 -8,-7.5 s 8,2.5 8,-7.5 z" fill="#93244c"/>
<path transform="translate(832.15,481)" d="M 0,0 H 113.5 H 113.5 v 25 H 0 V 20 c 0,-10 -8,8 -8,-7.5 s 8,2.5 8,-7.5 z" fill="#B82D5F" fill-rule="evenodd"/>
<path transform="translate(832.15,481)" d="M 1,1 H 113.5" class="hl" stroke="#cd6c8f"/>
<path transform="translate(832.15,481)" d="M 1,25 V 20 M 1,5 V 1" class="hl" stroke="#cd6c8f"/>
<path transform="translate(833.15,652)" d="M 0,0 H 171.4 H 171.4 v 25 H 0 V 20 c 0,-10 -8,8 -8,-7.5 s 8,2.5 8,-7.5 z" fill="#93244c"/>
<path transform="translate(832.15,651)" d="M 0,0 H 171.4 H 171.4 v 25 H 0 V 20 c 0,-10 -8,8 -8,-7.5 s 8,2.5 8,-7.5 z" fill="#B82D5F" fill-rule="evenodd"/>
<path transform="translate(832.15,651)" d="M 1,1 H 171.4" class="hl" stroke="#cd6c8f"/>
<path transform="translate(832.15,651)" d="M 1,25 V 20 M 1,5 V 1" class="hl" stroke="#cd6c8f"/>
<path transform="translate(833.15,678)" d="M 0,0 H 122.53 H 122.53 v 5 c 0,10 -8,-8 -8,7.5 s 8,-2.5 8,7.5 v 6 H 122.53 v 5 c 0,10 -8,-8 -8,7.5 s 8,-2.5 8,7.5 v 6 H 122.53 v 5 c 0,10 -8,-8 -8,7.5 s 8,-2.5 8,7.5 v 5 H 0 V 20 c 0,-10 -8,8 -8,-7.5 s 8,2.5 8,-7.5 z" fill="#93244c"/>
<path transform="translate(832.15,677)" d="M 0,0 H 122.53 H 122.53 v 5 c 0,10 -8,-8 -8,7.5 s 8,-2.5 8,7.5 v 6 H 122.53 v 5 c 0,10 -8,-8 -8,7.5 s 8,-2.5 8,7.5 v 6 H 122.53 v 5 c 0,10 -8,-8 -8,7.5 s 8,-2.5 8,7.5 v 5 H 0 V 20 c 0,-10 -8,8 -8,-7.5 s 8,2.5 8,-7.5 z" fill="#B82D5F" fill-rule="evenodd"/>
<path transform="translate(832.15,677)" d="M 1,1 H 122.53" class="hl" stroke="#cd6c8f"/>
<path transform="translate(832.15,677)" d="M 1,77 V 20 M 1,5 V 1" class="hl" stroke="#cd6c8f"/>
<path transform="translate(833.15,756)" d="M 0,0 H 106.1 H 106.1 v 25 H 0 V 20 c 0,-10 -8,8 -8,-7.5 s 8,2.5 8,-7.5 z" fill="#93244c"/>
<path transform="translate(832.15,755)" d="M 0,0 H 106.1 H 106.1 v 25 H 0 V 20 c 0,-10 -8,8 -8,-7.5 s 8,2.5 8,-7.5 z" fill="#B82D5F" fill-rule="evenodd"/>
<path transform="translate(832.15,755)" d="M 1,1 H 106.1" class="hl" stroke="#cd6c8f"/>
<path transform="translate(832.15,755)" d="M 1,25 V 20 M 1,5 V 1" class="hl" stroke="#cd6c8f"/>
<path transform="translate(958.01,1271)" d="M 0,0 H 150.99 H 150.99 v 25 H 0 V 20 c 0,-10 -8,8 -8,-7.5 s 8,2.5 8,-7.5 z" fill="#a64c24"/>
<path transform="translate(957.01,1270)" d="M 0,0 H 150.99 H 150.99 v 25 H 0 V 20 c 0,-10 -8,8 -8,-7.5 s 8,2.5 8,-7.5 z" fill="#D05F2D" fill-rule="evenodd"/>
<path transform="translate(957.01,1270)" d="M 1,1 H 150.99" class="hl" stroke="#de8f6c"/>
<path transform="translate(957.01,1270)" d="M 1,25 V 20 M 1,5 V 1" class="hl" stroke="#de8f6c"/>
<path transform="translate(958.01,1297)" d="M 0,0 H 28.16 H 28.16 v 25 H 0 V 20 c 0,-10 -8,8 -8,-7.5 s 8,2.5 8,-7.5 z" fill="#325a90"/>
<path transform="translate(957.01,1296)" d="M 0,0 H 28.16 H 28.16 v 25 H 0 V 20 c 0,-10 -8,8 -8,-7.5 s 8,2.5 8,-7.5 z" fill="#3F71B5" fill-rule="evenodd"/>
<path transform="translate(957.01,1296)" d="M 1,1 H 28.16" class="hl" stroke="#789bcb"/>
<path transform="translate(957.01,1296)" d="M 1,25 V 20 M 1,5 V 1" class="hl" stroke="#789bcb"/>
<path transform="translate(956.18,404)" d="M 0,0 H 180.39 H 180.39 v 25 H 0 V 20 c 0,-10 -8,8 -8,-7.5 s 8,2.5 8,-7.5 z" fill="#a64c24"/>
<path transform="translate(955.18,403)" d="M 0,0 H 180.39 H 180.39 v 25 H 0 V 20 c 0,-10 -8,8 -8,-7.5 s 8,2.5 8,-7.5 z" fill="#D05F2D" fill-rule="evenodd"/>
<path transform="translate(955.18,403)" d="M 1,1 H 180.39" class="hl" stroke="#de8f6c"/>
<path transform="translate(955.18,403)" d="M 1,25 V 20 M 1,5 V 1" class="hl" stroke="#de8f6c"/>
<path transform="translate(956.18,430)" d="M 0,0 H 53.5 H 53.5 v 25 H 0 V 20 c 0,-10 -8,8 -8,-7.5 s 8,2.5 8,-7.5 z" fill="#93244c"/>
<path transform="translate(955.18,429)" d="M 0,0 H 53.5 H 53.5 v 25 H 0 V 20 c 0,-10 -8,8 -8,-7.5 s 8,2.5 8,-7.5 z" fill="#B82D5F" fill-rule="evenodd"/>
<path transform="translate(955.18,429)" d="M 1,1 H 53.5" class="hl" stroke="#cd6c8f"/>
<path transform="translate(955.18,429)" d="M 1,25 V 20 M 1,5 V 1" class="hl" stroke="#cd6c8f"/>
<path transform="translate(956.18,456)" d="M 0,0 H 53.5 H 53.5 v 25 H 0 V 20 c 0,-10 -8,8 -8,-7.5 s 8,2.5 8,-7.5 z" fill="#93244c"/>
<path transform="translate(955.18,455)" d="M 0,0 H 53.5 H 53.5 v 25 H 0 V 20 c 0,-10 -8,8 -8,-7.5 s 8,2.5 8,-7.5 z" fill="#B82D5F" fill-rule="evenodd"/>
<path transform="translate(955.18,455)" d="M 1,1 H 53.5" class="hl" stroke="#cd6c8f"/>
<path transform="translate(955.18,455)" d="M 1,25 V 20 M 1,5 V 1" class="hl" stroke="#cd6c8f"/>
<path transform="translate(956.18,678)" d="M 0,0 H 99.5 H 99.5 v 5 c 0,10 -8,-8 -8,7.5 s 8,-2.5 8,7.5 v 5 H 0 V 20 c 0,-10 -8,8 -8,-7.5 s 8,2.5 8,-7.5 z" fill="#325a90"/>
<path transform="translate(955.18,677)" d="M 0,0 H 99.5 H 99.5 v 5 c 0,10 -8,-8 -8,7.5 s 8,-2.5 8,7.5 v 5 H 0 V 20 c 0,-10 -8,8 -8,-7.5 s 8,2.5 8,-7.5 z" fill="#3F71B5" fill-rule="evenodd"/>
<path transform="translate(955.18,677)" d="M 1,1 H 99.5" class="hl" stroke="#789bcb"/>
<path transform="translate(955.18,677)" d="M 1,25 V 20 M 1,5 V 1" class="hl" stroke="#789bcb"/>
<path transform="translate(956.18,704)" d="M 0,0 H 53.5 H 53.5 v 25 H 0 V 20 c 0,-10 -8,8 -8,-7.5 s 8,2.5 8,-7.5 z" fill="#93244c"/>
<path transform="translate(955.18,703)" d="M 0,0 H 53.5 H 53.5 v 25 H 0 V 20 c 0,-10 -8,8 -8,-7.5 s 8,2.5 8,-7.5 z" fill="#B82D5F" fill-rule="evenodd"/>
<path transform="translate(955.18,703)" d="M 1,1 H 53.5" class="hl" stroke="#cd6c8f"/>
<path transform="translate(955.18,703)" d="M 1,25 V 20 M 1,5 V 1" class="hl" stroke="#cd6c8f"/>
<path transform="translate(956.18,730)" d="M 0,0 H 53.5 H 53.5 v 25 H 0 V 20 c 0,-10 -8,8 -8,-7.5 s 8,2.5 8,-7.5 z" fill="#93244c"/>
<path transform="translate(955.18,729)" d="M 0,0 H 53.5 H 53.5 v 25 H 0 V 20 c 0,-10 -8,8 -8,-7.5 s 8,2.5 8,-7.5 z" fill="#B82D5F" fill-rule="evenodd"/>
<path transform="translate(955.18,729)" d="M 1,1 H 53.5" class="hl" stroke="#cd6c8f"/>
<path transform="translate(955.18,729)" d="M 1,25 V 20 M 1,5 V 1" class="hl" stroke="#cd6c8f"/>
<path transform="translate(1056.18,678)" d="M 0,0 H 180.39 H 180.39 v 25 H 0 V 20 c 0,-10 -8,8 -8,-7.5 s 8,2.5 8,-7.5 z" fill="#a64c24"/>
<path transform="translate(1055.18,677)" d="M 0,0 H 180.39 H 180.39 v 25 H 0 V 20 c 0,-10 -8,8 -8,-7.5 s 8,2.5 8,-7.5 z" fill="#D05F2D" fill-rule="evenodd"/>
<path transform="translate(1055.18,677)" d="M 1,1 H 180.39" class="hl" stroke="#de8f6c"/>
<path transform="translate(1055.18,677)" d="M 1,25 V 20 M 1,5 V 1" class="hl" stroke="#de8f6c"/>
<path transform="translate(140,1042)" d="M 170.59,5.5 v 27.5 h -153.39 M 284.79,5.5 v 27.5 h -62.2" class="hl" stroke="#789bcb" stroke-opacity=".7"/>
<path transform="translate(141.1,2021)" d="M 170.59,5.5 v 27.5 h -153.39 M 284.79,5.5 v 27.5 h -62.2" class="hl" stroke="#9fc47a" stroke-opacity=".7"/>
<path transform="translate(189.4,1079)" d="M 163.09,5.5 v 27.5 h -145.89 M 282.99,5.5 v 27.5 h -67.9" class="hl" stroke="#9fc47a" stroke-opacity=".7"/>
<path transform="translate(329.06,121)" d="M 276.49,5.5 v 53.5 h -259.29 M 566.86,5.5 v 53.5 h -259.29" class="hl" stroke="#789bcb" stroke-opacity=".7"/>
<path transform="translate(197.2,262)" d="M 198.79,5.5 v 27.5 h -181.59 M 279.55,5.5 v 27.5 h -29.36" class="hl" stroke="#789bcb" stroke-opacity=".7"/>
<path transform="translate(197.2,536)" d="M 198.79,5.5 v 27.5 h -181.59 M 279.55,5.5 v 27.5 h -29.36" class="hl" stroke="#789bcb" stroke-opacity=".7"/>
<text x="27" y="35" textLength="35" stroke="#B18E35">when</text>
<rect x="70" y="22.1" width="119.3" height="15.6" rx="4" ry="4" class="fr"/>
<text x="75" y="35" class="e" textLength="95">Button_Correu</text>
<path d="M177.4 27.4h6l-3 4.3z" fill="#B18E35"/>
<text x="194.3" y="35" textLength="36" stroke="#B18E35">.Click</text>
<text x="27" y="60" textLength="16" stroke="#B18E35">do</text>
<text x="61" y="1034" textLength="12" stroke="#7C5385">to</text>
<rect x="78.2" y="1021.1" width="192.5" height="15.6" rx="4" ry="4" class="fr"/>
<text x="83.2" y="1034" class="e" textLength="188.5">InsertDataInTable_Despeses</text>
<text x="34" y="1059" textLength="16" stroke="#7C5385">do</text>
<g class="ic" transform="translate(34.5,1020.8)"><rect width="16" height="16" rx="4" ry="4"/><path d="M6.6 4.6L6.8 2.9L9.2 2.9L9.4 4.6L10.3 5.1L11.8 4.5L13 6.5L11.7 7.5L11.7 8.5L13 9.5L11.8 11.6L10.3 10.9L9.4 11.4L9.2 13.1L6.8 13.1L6.6 11.4L5.7 10.9L4.2 11.6L3 9.5L4.3 8.5L4.3 7.5L3 6.5L4.2 4.5L5.7 5.1ZM5.9 8a2.1 2.1 0 1 0 4.2 0a2.1 2.1 0 1 0 -4.2 0Z"/></g>
<text x="62.1" y="2013" textLength="12" stroke="#7C5385">to</text>
<rect x="79.3" y="2000.1" width="120.7" height="15.6" rx="4" ry="4" class="fr"/>
<text x="84.3" y="2013" class="e" textLength="114">Reset_Despeses</text>
<text x="35.1" y="2038" textLength="16" stroke="#7C5385">do</text>
<g class="ic" transform="translate(35.6,1999.8)"><rect width="16" height="16" rx="4" ry="4"/><path d="M6.6 4.6L6.8 2.9L9.2 2.9L9.4 4.6L10.3 5.1L11.8 4.5L13 6.5L11.7 7.5L11.7 8.5L13 9.5L11.8 11.6L10.3 10.9L9.4 11.4L9.2 13.1L6.8 13.1L6.6 11.4L5.7 10.9L4.2 11.6L3 9.5L4.3 8.5L4.3 7.5L3 6.5L4.2 4.5L5.7 5.1ZM5.9 8a2.1 2.1 0 1 0 4.2 0a2.1 2.1 0 1 0 -4.2 0Z"/></g>
<text x="90.8" y="61" textLength="85" stroke="#D05F2D">initialize local</text>
<rect x="182.14" y="48.1" width="49.3" height="15.6" rx="4" ry="4" class="fp"/>
<text x="187.14" y="61" class="e" textLength="40">usuari</text>
<text x="236.44" y="61" textLength="12" stroke="#D05F2D">to</text>
<text x="63.8" y="112" textLength="11" stroke="#D05F2D">in</text>
<g class="ic" transform="translate(64.3,47.8)"><rect width="16" height="16" rx="4" ry="4"/><path d="M6.6 4.6L6.8 2.9L9.2 2.9L9.4 4.6L10.3 5.1L11.8 4.5L13 6.5L11.7 7.5L11.7 8.5L13 9.5L11.8 11.6L10.3 10.9L9.4 11.4L9.2 13.1L6.8 13.1L6.6 11.4L5.7 10.9L4.2 11.6L3 9.5L4.3 8.5L4.3 7.5L3 6.5L4.2 4.5L5.7 5.1ZM5.9 8a2.1 2.1 0 1 0 4.2 0a2.1 2.1 0 1 0 -4.2 0Z"/></g>
<text x="97.8" y="1060" textLength="7" stroke="#B18E35">if</text>
<text x="70.8" y="1096" textLength="28" stroke="#B18E35">then</text>
<text x="70.8" y="1597" textLength="27" stroke="#B18E35">else</text>
<g class="ic" transform="translate(71.3,1046.8)"><rect width="16" height="16" rx="4" ry="4"/><path d="M6.6 4.6L6.8 2.9L9.2 2.9L9.4 4.6L10.3 5.1L11.8 4.5L13 6.5L11.7 7.5L11.7 8.5L13 9.5L11.8 11.6L10.3 10.9L9.4 11.4L9.2 13.1L6.8 13.1L6.6 11.4L5.7 10.9L4.2 11.6L3 9.5L4.3 8.5L4.3 7.5L3 6.5L4.2 4.5L5.7 5.1ZM5.9 8a2.1 2.1 0 1 0 4.2 0a2.1 2.1 0 1 0 -4.2 0Z"/></g>
<text x="98.9" y="2039" textLength="7" stroke="#B18E35">if</text>
<text x="71.9" y="2075" textLength="28" stroke="#B18E35">then</text>
<text x="71.9" y="2399" textLength="27" stroke="#B18E35">else</text>
<g class="ic" transform="translate(72.4,2025.8)"><rect width="16" height="16" rx="4" ry="4"/><path d="M6.6 4.6L6.8 2.9L9.2 2.9L9.4 4.6L10.3 5.1L11.8 4.5L13 6.5L11.7 7.5L11.7 8.5L13 9.5L11.8 11.6L10.3 10.9L9.4 11.4L9.2 13.1L6.8 13.1L6.6 11.4L5.7 10.9L4.2 11.6L3 9.5L4.3 8.5L4.3 7.5L3 6.5L4.2 4.5L5.7 5.1ZM5.9 8a2.1 2.1 0 1 0 4.2 0a2.1 2.1 0 1 0 -4.2 0Z"/></g>
<text x="277.94" y="61" textLength="119" stroke="#49A6D4">select list item  list</text>
<text x="366.7" y="87" textLength="34" stroke="#49A6D4">index</text>
<text x="122.9" y="113" textLength="85" stroke="#D05F2D">initialize local</text>
<rect x="214.24" y="100.1" width="123.5" height="15.6" rx="4" ry="4" class="fp"/>
<text x="219.24" y="113" class="e" textLength="114">quantitat_retornar</text>
<text x="342.74" y="113" textLength="12" stroke="#D05F2D">to</text>
<text x="95.9" y="138" textLength="11" stroke="#D05F2D">in</text>
<g class="ic" transform="translate(96.4,99.8)"><rect width="16" height="16" rx="4" ry="4"/><path d="M6.6 4.6L6.8 2.9L9.2 2.9L9.4 4.6L10.3 5.1L11.8 4.5L13 6.5L11.7 7.5L11.7 8.5L13 9.5L11.8 11.6L10.3 10.9L9.4 11.4L9.2 13.1L6.8 13.1L6.6 11.4L5.7 10.9L4.2 11.6L3 9.5L4.3 8.5L4.3 7.5L3 6.5L4.2 4.5L5.7 5.1ZM5.9 8a2.1 2.1 0 1 0 4.2 0a2.1 2.1 0 1 0 -4.2 0Z"/></g>
<rect x="314.59" y="1052.1" width="35.8" height="15.6" rx="4" ry="4" class="fr"/>
<text x="319.59" y="1065" class="e">=</text>
<path d="M335.99 1057.4h6l-3 4.3z" fill="#3F71B5"/>
<text x="147.2" y="1097" textLength="7" stroke="#B18E35">if</text>
<text x="120.2" y="1133" textLength="28" stroke="#B18E35">then</text>
<g class="ic" transform="translate(120.7,1083.8)"><rect width="16" height="16" rx="4" ry="4"/><path d="M6.6 4.6L6.8 2.9L9.2 2.9L9.4 4.6L10.3 5.1L11.8 4.5L13 6.5L11.7 7.5L11.7 8.5L13 9.5L11.8 11.6L10.3 10.9L9.4 11.4L9.2 13.1L6.8 13.1L6.6 11.4L5.7 10.9L4.2 11.6L3 9.5L4.3 8.5L4.3 7.5L3 6.5L4.2 4.5L5.7 5.1ZM5.9 8a2.1 2.1 0 1 0 4.2 0a2.1 2.1 0 1 0 -4.2 0Z"/></g>
<text x="120.2" y="1598" textLength="22" stroke="#7C5385">call</text>
<rect x="151.26" y="1585.1" width="226.6" height="15.6" rx="4" ry="4" class="fr"/>
<text x="156.26" y="1598" class="e" textLength="203.4">FusiontablesControl_Despeses</text>
<path d="M367.06 1590.4h6l-3 4.3z" fill="#7C5385"/>
<text x="382.86" y="1598" textLength="70" stroke="#7C5385">.InsertRow</text>
<text x="408.89" y="1623" textLength="42" stroke="#7C5385">tableId</text>
<text x="398.35" y="1649" textLength="56" stroke="#7C5385">columns</text>
<text x="410.55" y="1675" textLength="42" stroke="#7C5385">values</text>
<rect x="315.69" y="2031.1" width="35.8" height="15.6" rx="4" ry="4" class="fr"/>
<text x="320.69" y="2044" class="e">=</text>
<path d="M337.09 2036.4h6l-3 4.3z" fill="#77AB41"/>
<text x="121.3" y="2076" textLength="20" stroke="#266643">set</text>
<rect x="149.94" y="2063.1" width="154" height="15.6" rx="4" ry="4" class="fr"/>
<text x="154.94" y="2076" class="e" textLength="128">TextBox_Quantitat2</text>
<path d="M290.34 2068.4h6l-3 4.3z" fill="#266643"/>
<text x="308.94" y="2076" stroke="#266643">.</text>
<rect x="319.04" y="2063.1" width="52.9" height="15.6" rx="4" ry="4" class="fr"/>
<text x="324.04" y="2076" class="e" textLength="28">Text</text>
<path d="M359.44 2068.4h6l-3 4.3z" fill="#266643"/>
<text x="380.94" y="2076" textLength="12" stroke="#266643">to</text>
<text x="121.3" y="2102" textLength="53" stroke="#B18E35">for each</text>
<rect x="176.7" y="2089.1" width="59.5" height="15.6" rx="4" ry="4" class="fp"/>
<text x="181.7" y="2102" class="e" textLength="50">number</text>
<text x="241.2" y="2102" textLength="30" stroke="#B18E35">from</text>
<text x="256.1" y="2128" textLength="12" stroke="#B18E35">to</text>
<text x="253.62" y="2154" textLength="15" stroke="#B18E35">by</text>
<text x="121.3" y="2179" textLength="16" stroke="#B18E35">do</text>
<text x="121.3" y="2400" textLength="20" stroke="#266643">set</text>
<rect x="149.94" y="2387.1" width="172.19" height="15.6" rx="4" ry="4" class="fr"/>
<text x="154.94" y="2400" class="e" textLength="147">TextBox_nom_activitat</text>
<path d="M309.34 2392.4h6l-3 4.3z" fill="#266643"/>
<text x="327.13" y="2400" stroke="#266643">.</text>
<rect x="337.23" y="2387.1" width="52.9" height="15.6" rx="4" ry="4" class="fr"/>
<text x="342.23" y="2400" class="e" textLength="28">Text</text>
<path d="M377.63 2392.4h6l-3 4.3z" fill="#266643"/>
<text x="399.13" y="2400" textLength="12" stroke="#266643">to</text>
<text x="121.3" y="2426" textLength="20" stroke="#266643">set</text>
<rect x="149.94" y="2413.1" width="154" height="15.6" rx="4" ry="4" class="fr"/>
<text x="154.94" y="2426" class="e" textLength="128">TextBox_Quantitat2</text>
<path d="M290.34 2418.4h6l-3 4.3z" fill="#266643"/>
<text x="308.94" y="2426" stroke="#266643">.</text>
<rect x="319.04" y="2413.1" width="52.9" height="15.6" rx="4" ry="4" class="fr"/>
<text x="324.04" y="2426" class="e" textLength="28">Text</text>
<path d="M359.44 2418.4h6l-3 4.3z" fill="#266643"/>
<text x="380.94" y="2426" textLength="12" stroke="#266643">to</text>
<text x="430.24" y="61" textLength="20" stroke="#D05F2D">get</text>
<rect x="455.63" y="48.1" width="135.1" height="15.6" rx="4" ry="4" class="fr"/>
<text x="460.63" y="61" class="e" textLength="106">global llista_total</text>
<path d="M574.03 53.4h6l-3 4.3z" fill="#D05F2D"/>
<rect x="425.24" y="74.1" width="145" height="15.6" rx="4" ry="4" class="fr"/>
<text x="430.24" y="87" class="e" textLength="119">ListPicker_Noms1</text>
<path d="M556.64 79.4h6l-3 4.3z" fill="#439970"/>
<text x="575.24" y="87" stroke="#439970">.</text>
<rect x="585.34" y="74.1" width="121.1" height="15.6" rx="4" ry="4" class="fr"/>
<text x="590.34" y="87" class="e" textLength="94">SelectionIndex</text>
<path d="M691.74 79.4h6l-3 4.3z" fill="#439970"/>
<rect x="379.24" y="100.1" width="18.16" height="15.6" rx="4" ry="4" class="fr"/>
<text x="384.24" y="113" class="e">0</text>
<text x="128" y="139" textLength="20" stroke="#D05F2D">set</text>
<rect x="152.56" y="126.1" width="140" height="15.6" rx="4" ry="4" class="fr"/>
<text x="157.56" y="139" class="e" textLength="114">quantitat_retornar</text>
<path d="M278.96 131.4h6l-3 4.3z" fill="#D05F2D"/>
<text x="297.56" y="139" textLength="12" stroke="#D05F2D">to</text>
<text x="128" y="202" textLength="20" stroke="#266643">set</text>
<rect x="156.64" y="189.1" width="167.3" height="15.6" rx="4" ry="4" class="fr"/>
<text x="161.64" y="202" class="e" textLength="142">ActivityStarter_Correu</text>
<path d="M311.04 194.4h6l-3 4.3z" fill="#266643"/>
<text x="328.94" y="202" stroke="#266643">.</text>
<rect x="339.04" y="189.1" width="68" height="15.6" rx="4" ry="4" class="fr"/>
<text x="344.04" y="202" class="e" textLength="40">Action</text>
<path d="M391.44 194.4h6l-3 4.3z" fill="#266643"/>
<text x="416.04" y="202" textLength="12" stroke="#266643">to</text>
<text x="128" y="228" textLength="20" stroke="#266643">set</text>
<rect x="156.64" y="215.1" width="167.3" height="15.6" rx="4" ry="4" class="fr"/>
<text x="161.64" y="228" class="e" textLength="142">ActivityStarter_Correu</text>
<path d="M311.04 220.4h6l-3 4.3z" fill="#266643"/>
<text x="328.94" y="228" stroke="#266643">.</text>
<rect x="339.04" y="215.1" width="74.6" height="15.6" rx="4" ry="4" class="fr"/>
<text x="344.04" y="228" class="e" textLength="49">DataUri</text>
<path d="M400.44 220.4h6l-3 4.3z" fill="#266643"/>
<text x="422.64" y="228" textLength="12" stroke="#266643">to</text>
<text x="155" y="280" textLength="7" stroke="#B18E35">if</text>
<text x="128" y="316" textLength="28" stroke="#B18E35">then</text>
<text x="128" y="554" textLength="38" stroke="#B18E35">else if</text>
<text x="128" y="590" textLength="28" stroke="#B18E35">then</text>
<text x="128" y="838" textLength="27" stroke="#B18E35">else</text>
<g class="ic" transform="translate(128.5,266.8)"><rect width="16" height="16" rx="4" ry="4"/><path d="M6.6 4.6L6.8 2.9L9.2 2.9L9.4 4.6L10.3 5.1L11.8 4.5L13 6.5L11.7 7.5L11.7 8.5L13 9.5L11.8 11.6L10.3 10.9L9.4 11.4L9.2 13.1L6.8 13.1L6.6 11.4L5.7 10.9L4.2 11.6L3 9.5L4.3 8.5L4.3 7.5L3 6.5L4.2 4.5L5.7 5.1ZM5.9 8a2.1 2.1 0 1 0 4.2 0a2.1 2.1 0 1 0 -4.2 0Z"/></g>
<text x="166.7" y="1066" textLength="20" stroke="#D05F2D">get</text>
<rect x="192.09" y="1053.1" width="111.8" height="15.6" rx="4" ry="4" class="fr"/>
<text x="197.09" y="1066" class="e" textLength="83">global clickat</text>
<path d="M287.49 1058.4h6l-3 4.3z" fill="#D05F2D"/>
<rect x="367.09" y="1053.1" width="51" height="15.6" rx="4" ry="4" class="fr"/>
<text x="372.09" y="1066" class="e" textLength="25">true</text>
<path d="M404.49 1058.4h6l-3 4.3z" fill="#77AB41"/>
<rect x="356.49" y="1089.1" width="35.8" height="15.6" rx="4" ry="4" class="fr"/>
<text x="361.49" y="1102" class="e">=</text>
<path d="M377.89 1094.4h6l-3 4.3z" fill="#77AB41"/>
<text x="169.6" y="1134" textLength="22" stroke="#7C5385">call</text>
<rect x="200.66" y="1121.1" width="226.6" height="15.6" rx="4" ry="4" class="fr"/>
<text x="205.66" y="1134" class="e" textLength="203.4">FusiontablesControl_Despeses</text>
<path d="M416.46 1126.4h6l-3 4.3z" fill="#7C5385"/>
<text x="432.26" y="1134" textLength="70" stroke="#7C5385">.InsertRow</text>
<text x="458.29" y="1159" textLength="42" stroke="#7C5385">tableId</text>
<text x="447.75" y="1185" textLength="56" stroke="#7C5385">columns</text>
<text x="459.95" y="1211" textLength="42" stroke="#7C5385">values</text>
<text x="481.43" y="1623" textLength="20" stroke="#D05F2D">get</text>
<rect x="506.82" y="1610.1" width="223.3" height="15.6" rx="4" ry="4" class="fr"/>
<text x="511.82" y="1623" class="e" textLength="198">global TAULA_DESPESES_ID</text>
<path d="M717.22 1615.4h6l-3 4.3z" fill="#D05F2D"/>
<text x="481.43" y="1649" stroke="#B82D5F">"</text>
<rect x="490.82" y="1636.1" width="147.8" height="15.6" rx="4" ry="4" class="fr"/>
<text x="495.82" y="1649" class="e" textLength="137">Nom, Quantitat, Data</text>
<text x="643.62" y="1649" stroke="#B82D5F">"</text>
<text x="508.43" y="1675" textLength="22" stroke="#B82D5F">join</text>
<g class="ic" transform="translate(481.93,1661.8)"><rect width="16" height="16" rx="4" ry="4"/><path d="M6.6 4.6L6.8 2.9L9.2 2.9L9.4 4.6L10.3 5.1L11.8 4.5L13 6.5L11.7 7.5L11.7 8.5L13 9.5L11.8 11.6L10.3 10.9L9.4 11.4L9.2 13.1L6.8 13.1L6.6 11.4L5.7 10.9L4.2 11.6L3 9.5L4.3 8.5L4.3 7.5L3 6.5L4.2 4.5L5.7 5.1ZM5.9 8a2.1 2.1 0 1 0 4.2 0a2.1 2.1 0 1 0 -4.2 0Z"/></g>
<text x="167.8" y="2045" textLength="20" stroke="#D05F2D">get</text>
<rect x="193.19" y="2032.1" width="111.8" height="15.6" rx="4" ry="4" class="fr"/>
<text x="198.19" y="2045" class="e" textLength="83">global clickat</text>
<path d="M288.59 2037.4h6l-3 4.3z" fill="#D05F2D"/>
<rect x="368.19" y="2032.1" width="51" height="15.6" rx="4" ry="4" class="fr"/>
<text x="373.19" y="2045" class="e" textLength="25">true</text>
<path d="M405.59 2037.4h6l-3 4.3z" fill="#77AB41"/>
<text x="422.74" y="2076" stroke="#B82D5F">"</text>
<rect x="432.14" y="2063.1" width="15" height="15.6" rx="4" ry="4" class="fr"/>
<text x="452.14" y="2076" stroke="#B82D5F">"</text>
<rect x="292.6" y="2089.1" width="18.16" height="15.6" rx="4" ry="4" class="fr"/>
<text x="297.6" y="2102" class="e">1</text>
<text x="297.6" y="2128" textLength="106" stroke="#49A6D4">length of list  list</text>
<rect x="292.6" y="2141.1" width="18.16" height="15.6" rx="4" ry="4" class="fr"/>
<text x="297.6" y="2154" class="e">1</text>
<text x="185.1" y="2180" textLength="7" stroke="#B18E35">if</text>
<text x="158.1" y="2256" textLength="28" stroke="#B18E35">then</text>
<g class="ic" transform="translate(158.6,2166.8)"><rect width="16" height="16" rx="4" ry="4"/><path d="M6.6 4.6L6.8 2.9L9.2 2.9L9.4 4.6L10.3 5.1L11.8 4.5L13 6.5L11.7 7.5L11.7 8.5L13 9.5L11.8 11.6L10.3 10.9L9.4 11.4L9.2 13.1L6.8 13.1L6.6 11.4L5.7 10.9L4.2 11.6L3 9.5L4.3 8.5L4.3 7.5L3 6.5L4.2 4.5L5.7 5.1ZM5.9 8a2.1 2.1 0 1 0 4.2 0a2.1 2.1 0 1 0 -4.2 0Z"/></g>
<text x="440.93" y="2400" stroke="#B82D5F">"</text>
<rect x="450.33" y="2387.1" width="15" height="15.6" rx="4" ry="4" class="fr"/>
<text x="470.33" y="2400" stroke="#B82D5F">"</text>
<text x="422.74" y="2426" stroke="#B82D5F">"</text>
<rect x="432.14" y="2413.1" width="15" height="15.6" rx="4" ry="4" class="fr"/>
<text x="452.14" y="2426" stroke="#B82D5F">"</text>
<text x="614.55" y="144" stroke="#3F71B5">-</text>
<text x="457.84" y="202" stroke="#B82D5F">"</text>
<rect x="467.24" y="189.1" width="183.61" height="15.6" rx="4" ry="4" class="fr"/>
<text x="472.24" y="202" class="e" textLength="171">android.intent.action.VIEW</text>
<text x="655.85" y="202" stroke="#B82D5F">"</text>
<text x="491.44" y="228" textLength="22" stroke="#B82D5F">join</text>
<g class="ic" transform="translate(464.94,214.8)"><rect width="16" height="16" rx="4" ry="4"/><path d="M6.6 4.6L6.8 2.9L9.2 2.9L9.4 4.6L10.3 5.1L11.8 4.5L13 6.5L11.7 7.5L11.7 8.5L13 9.5L11.8 11.6L10.3 10.9L9.4 11.4L9.2 13.1L6.8 13.1L6.6 11.4L5.7 10.9L4.2 11.6L3 9.5L4.3 8.5L4.3 7.5L3 6.5L4.2 4.5L5.7 5.1ZM5.9 8a2.1 2.1 0 1 0 4.2 0a2.1 2.1 0 1 0 -4.2 0Z"/></g>
<rect x="399.99" y="272.1" width="35.2" height="15.6" rx="4" ry="4" class="fr"/>
<text x="404.99" y="285" class="e">&gt;</text>
<path d="M421.39 277.4h6l-3 4.3z" fill="#3F71B5"/>
<text x="177.4" y="317" textLength="20" stroke="#266643">set</text>
<rect x="206.04" y="304.1" width="167.3" height="15.6" rx="4" ry="4" class="fr"/>
<text x="211.04" y="317" class="e" textLength="142">ActivityStarter_Correu</text>
<path d="M360.44 309.4h6l-3 4.3z" fill="#266643"/>
<text x="378.34" y="317" stroke="#266643">.</text>
<rect x="388.44" y="304.1" width="68.8" height="15.6" rx="4" ry="4" class="fr"/>
<text x="393.44" y="317" class="e" textLength="42">Extras</text>
<path d="M442.84 309.4h6l-3 4.3z" fill="#266643"/>
<text x="466.24" y="317" textLength="12" stroke="#266643">to</text>
<text x="177.4" y="525" textLength="22" stroke="#7C5385">call</text>
<rect x="208.46" y="512.1" width="167.3" height="15.6" rx="4" ry="4" class="fr"/>
<text x="213.46" y="525" class="e" textLength="142">ActivityStarter_Correu</text>
<path d="M362.86 517.4h6l-3 4.3z" fill="#7C5385"/>
<text x="380.76" y="525" textLength="80" stroke="#7C5385">.StartActivity</text>
<rect x="399.99" y="546.1" width="35.2" height="15.6" rx="4" ry="4" class="fr"/>
<text x="404.99" y="559" class="e">&lt;</text>
<path d="M421.39 551.4h6l-3 4.3z" fill="#3F71B5"/>
<text x="177.4" y="591" textLength="20" stroke="#266643">set</text>
<rect x="206.04" y="578.1" width="167.3" height="15.6" rx="4" ry="4" class="fr"/>
<text x="211.04" y="591" class="e" textLength="142">ActivityStarter_Correu</text>
<path d="M360.44 583.4h6l-3 4.3z" fill="#266643"/>
<text x="378.34" y="591" stroke="#266643">.</text>
<rect x="388.44" y="578.1" width="68.8" height="15.6" rx="4" ry="4" class="fr"/>
<text x="393.44" y="591" class="e" textLength="42">Extras</text>
<path d="M442.84 583.4h6l-3 4.3z" fill="#266643"/>
<text x="466.24" y="591" textLength="12" stroke="#266643">to</text>
<text x="177.4" y="799" textLength="22" stroke="#7C5385">call</text>
<rect x="208.46" y="786.1" width="167.3" height="15.6" rx="4" ry="4" class="fr"/>
<text x="213.46" y="799" class="e" textLength="142">ActivityStarter_Correu</text>
<path d="M362.86 791.4h6l-3 4.3z" fill="#7C5385"/>
<text x="380.76" y="799" textLength="80" stroke="#7C5385">.StartActivity</text>
<text x="177.4" y="839" textLength="22" stroke="#7C5385">call</text>
<rect x="208.46" y="826.1" width="79" height="15.6" rx="4" ry="4" class="fr"/>
<text x="213.46" y="839" class="e" textLength="53">Notifier1</text>
<path d="M273.86 831.4h6l-3 4.3z" fill="#7C5385"/>
<text x="292.46" y="839" textLength="141" stroke="#7C5385">.ShowMessageDialog</text>
<text x="374.76" y="864" textLength="61" stroke="#7C5385">message</text>
<text x="411.43" y="890" textLength="22" stroke="#7C5385">title</text>
<text x="366.57" y="916" textLength="68" stroke="#7C5385">buttonText</text>
<text x="216.1" y="1103" textLength="20" stroke="#D05F2D">get</text>
<rect x="241.49" y="1090.1" width="104.3" height="15.6" rx="4" ry="4" class="fr"/>
<text x="246.49" y="1103" class="e" textLength="77">global buida</text>
<path d="M330.89 1095.4h6l-3 4.3z" fill="#D05F2D"/>
<rect x="408.99" y="1090.1" width="56.7" height="15.6" rx="4" ry="4" class="fr"/>
<text x="413.99" y="1103" class="e" textLength="31">false</text>
<path d="M452.39 1095.4h6l-3 4.3z" fill="#77AB41"/>
<text x="530.83" y="1159" textLength="20" stroke="#D05F2D">get</text>
<rect x="556.22" y="1146.1" width="223.3" height="15.6" rx="4" ry="4" class="fr"/>
<text x="561.22" y="1159" class="e" textLength="198">global TAULA_DESPESES_ID</text>
<path d="M766.62 1151.4h6l-3 4.3z" fill="#D05F2D"/>
<text x="530.83" y="1185" stroke="#B82D5F">"</text>
<rect x="540.23" y="1172.1" width="147.8" height="15.6" rx="4" ry="4" class="fr"/>
<text x="545.23" y="1185" class="e" textLength="137">Nom, Quantitat, Data</text>
<text x="693.03" y="1185" stroke="#B82D5F">"</text>
<text x="557.83" y="1211" textLength="22" stroke="#B82D5F">join</text>
<g class="ic" transform="translate(531.33,1197.8)"><rect width="16" height="16" rx="4" ry="4"/><path d="M6.6 4.6L6.8 2.9L9.2 2.9L9.4 4.6L10.3 5.1L11.8 4.5L13 6.5L11.7 7.5L11.7 8.5L13 9.5L11.8 11.6L10.3 10.9L9.4 11.4L9.2 13.1L6.8 13.1L6.6 11.4L5.7 10.9L4.2 11.6L3 9.5L4.3 8.5L4.3 7.5L3 6.5L4.2 4.5L5.7 5.1ZM5.9 8a2.1 2.1 0 1 0 4.2 0a2.1 2.1 0 1 0 -4.2 0Z"/></g>
<text x="559.74" y="1675" textLength="22" stroke="#7C5385">call</text>
<rect x="590.8" y="1662.1" width="72.7" height="15.6" rx="4" ry="4" class="fr"/>
<text x="595.8" y="1675" class="e" textLength="46">Quotify</text>
<path d="M649.2 1667.4h6l-3 4.3z" fill="#7C5385"/>
<text x="642.22" y="1700" textLength="17" stroke="#7C5385">str</text>
<text x="559.74" y="1726" stroke="#B82D5F">"</text>
<rect x="569.14" y="1713.1" width="14.7" height="15.6" rx="4" ry="4" class="fr"/>
<text x="574.14" y="1726" class="e">,</text>
<text x="588.84" y="1726" stroke="#B82D5F">"</text>
<text x="559.74" y="1752" textLength="22" stroke="#7C5385">call</text>
<rect x="590.8" y="1739.1" width="72.7" height="15.6" rx="4" ry="4" class="fr"/>
<text x="595.8" y="1752" class="e" textLength="46">Quotify</text>
<path d="M649.2 1744.4h6l-3 4.3z" fill="#7C5385"/>
<text x="642.22" y="1777" textLength="17" stroke="#7C5385">str</text>
<text x="559.74" y="1829" stroke="#B82D5F">"</text>
<rect x="569.14" y="1816.1" width="14.7" height="15.6" rx="4" ry="4" class="fr"/>
<text x="574.14" y="1829" class="e">,</text>
<text x="588.84" y="1829" stroke="#B82D5F">"</text>
<text x="559.74" y="1855" textLength="22" stroke="#7C5385">call</text>
<rect x="590.8" y="1842.1" width="72.7" height="15.6" rx="4" ry="4" class="fr"/>
<text x="595.8" y="1855" class="e" textLength="46">Quotify</text>
<path d="M649.2 1847.4h6l-3 4.3z" fill="#7C5385"/>
<text x="642.22" y="1880" textLength="17" stroke="#7C5385">str</text>
<text x="434.49" y="2128" textLength="20" stroke="#D05F2D">get</text>
<rect x="459.88" y="2115.1" width="175.4" height="15.6" rx="4" ry="4" class="fr"/>
<text x="464.88" y="2128" class="e" textLength="149">global llista_checkboxs</text>
<path d="M621.28 2120.4h6l-3 4.3z" fill="#D05F2D"/>
<text x="237.3" y="2180" textLength="71" stroke="#439970">CheckBox.</text>
<rect x="313.19" y="2167.1" width="83" height="15.6" rx="4" ry="4" class="fr"/>
<text x="318.19" y="2180" class="e" textLength="58">Checked</text>
<path d="M383.59 2172.4h6l-3 4.3z" fill="#439970"/>
<text x="304.33" y="2205" textLength="89" stroke="#439970">of component</text>
<text x="207.5" y="2257" textLength="95" stroke="#266643">set CheckBox.</text>
<rect x="307.03" y="2244.1" width="83" height="15.6" rx="4" ry="4" class="fr"/>
<text x="312.03" y="2257" class="e" textLength="58">Checked</text>
<path d="M377.43 2249.4h6l-3 4.3z" fill="#266643"/>
<text x="298.17" y="2282" textLength="89" stroke="#266643">of component</text>
<text x="374.03" y="2334" textLength="12" stroke="#266643">to</text>
<text x="355.76" y="145" textLength="119" stroke="#49A6D4">select list item  list</text>
<text x="444.52" y="171" textLength="34" stroke="#49A6D4">index</text>
<text x="646.13" y="145" textLength="119" stroke="#49A6D4">select list item  list</text>
<text x="734.88" y="171" textLength="34" stroke="#49A6D4">index</text>
<text x="542.75" y="228" stroke="#B82D5F">"</text>
<rect x="552.15" y="215.1" width="53.17" height="15.6" rx="4" ry="4" class="fr"/>
<text x="557.15" y="228" class="e" textLength="43">mailto:</text>
<text x="610.32" y="228" stroke="#B82D5F">"</text>
<rect x="537.75" y="241.1" width="139.5" height="15.6" rx="4" ry="4" class="fr"/>
<text x="542.75" y="254" class="e" textLength="116">Label_Email_Text</text>
<path d="M666.15 246.4h6l-3 4.3z" fill="#439970"/>
<text x="682.25" y="254" stroke="#439970">.</text>
<rect x="692.35" y="241.1" width="52.9" height="15.6" rx="4" ry="4" class="fr"/>
<text x="697.35" y="254" class="e" textLength="28">Text</text>
<path d="M732.75 246.4h6l-3 4.3z" fill="#439970"/>
<text x="223.9" y="286" textLength="20" stroke="#D05F2D">get</text>
<rect x="249.29" y="273.1" width="140" height="15.6" rx="4" ry="4" class="fr"/>
<text x="254.29" y="286" class="e" textLength="114">quantitat_retornar</text>
<path d="M375.69 278.4h6l-3 4.3z" fill="#D05F2D"/>
<rect x="451.89" y="273.1" width="18.16" height="15.6" rx="4" ry="4" class="fr"/>
<text x="456.89" y="286" class="e">0</text>
<text x="535.04" y="317" textLength="70" stroke="#49A6D4">make a list</text>
<g class="ic" transform="translate(508.54,303.8)"><rect width="16" height="16" rx="4" ry="4"/><path d="M6.6 4.6L6.8 2.9L9.2 2.9L9.4 4.6L10.3 5.1L11.8 4.5L13 6.5L11.7 7.5L11.7 8.5L13 9.5L11.8 11.6L10.3 10.9L9.4 11.4L9.2 13.1L6.8 13.1L6.6 11.4L5.7 10.9L4.2 11.6L3 9.5L4.3 8.5L4.3 7.5L3 6.5L4.2 4.5L5.7 5.1ZM5.9 8a2.1 2.1 0 1 0 4.2 0a2.1 2.1 0 1 0 -4.2 0Z"/></g>
<text x="223.9" y="560" textLength="20" stroke="#D05F2D">get</text>
<rect x="249.29" y="547.1" width="140" height="15.6" rx="4" ry="4" class="fr"/>
<text x="254.29" y="560" class="e" textLength="114">quantitat_retornar</text>
<path d="M375.69 552.4h6l-3 4.3z" fill="#D05F2D"/>
<rect x="451.89" y="547.1" width="18.16" height="15.6" rx="4" ry="4" class="fr"/>
<text x="456.89" y="560" class="e">0</text>
<text x="535.04" y="591" textLength="70" stroke="#49A6D4">make a list</text>
<g class="ic" transform="translate(508.54,577.8)"><rect width="16" height="16" rx="4" ry="4"/><path d="M6.6 4.6L6.8 2.9L9.2 2.9L9.4 4.6L10.3 5.1L11.8 4.5L13 6.5L11.7 7.5L11.7 8.5L13 9.5L11.8 11.6L10.3 10.9L9.4 11.4L9.2 13.1L6.8 13.1L6.6 11.4L5.7 10.9L4.2 11.6L3 9.5L4.3 8.5L4.3 7.5L3 6.5L4.2 4.5L5.7 5.1ZM5.9 8a2.1 2.1 0 1 0 4.2 0a2.1 2.1 0 1 0 -4.2 0Z"/></g>
<text x="462.74" y="864" stroke="#B82D5F">"</text>
<rect x="472.14" y="851.1" width="337.6" height="15.6" rx="4" ry="4" class="fr"/>
<text x="477.14" y="864" class="e" textLength="326">Aquesta persona no deu diners ni n'ha de rebre. ...</text>
<text x="814.74" y="864" stroke="#B82D5F">"</text>
<text x="462.74" y="890" stroke="#B82D5F">"</text>
<rect x="472.14" y="877.1" width="58.1" height="15.6" rx="4" ry="4" class="fr"/>
<text x="477.14" y="890" class="e" textLength="48">Atenció</text>
<text x="535.24" y="890" stroke="#B82D5F">"</text>
<text x="462.74" y="916" stroke="#B82D5F">"</text>
<rect x="472.14" y="903.1" width="57.1" height="15.6" rx="4" ry="4" class="fr"/>
<text x="477.14" y="916" class="e" textLength="51">D'acord</text>
<text x="534.24" y="916" stroke="#B82D5F">"</text>
<text x="609.14" y="1211" textLength="22" stroke="#7C5385">call</text>
<rect x="640.2" y="1198.1" width="72.7" height="15.6" rx="4" ry="4" class="fr"/>
<text x="645.2" y="1211" class="e" textLength="46">Quotify</text>
<path d="M698.6 1203.4h6l-3 4.3z" fill="#7C5385"/>
<text x="691.62" y="1236" textLength="17" stroke="#7C5385">str</text>
<text x="609.14" y="1340" stroke="#B82D5F">"</text>
<rect x="618.54" y="1327.1" width="14.7" height="15.6" rx="4" ry="4" class="fr"/>
<text x="623.54" y="1340" class="e">,</text>
<text x="638.24" y="1340" stroke="#B82D5F">"</text>
<text x="609.14" y="1366" textLength="22" stroke="#7C5385">call</text>
<rect x="640.2" y="1353.1" width="72.7" height="15.6" rx="4" ry="4" class="fr"/>
<text x="645.2" y="1366" class="e" textLength="46">Quotify</text>
<path d="M698.6 1358.4h6l-3 4.3z" fill="#7C5385"/>
<text x="691.62" y="1391" textLength="17" stroke="#7C5385">str</text>
<text x="609.14" y="1443" stroke="#B82D5F">"</text>
<rect x="618.54" y="1430.1" width="14.7" height="15.6" rx="4" ry="4" class="fr"/>
<text x="623.54" y="1443" class="e">,</text>
<text x="638.24" y="1443" stroke="#B82D5F">"</text>
<text x="609.14" y="1469" textLength="22" stroke="#7C5385">call</text>
<rect x="640.2" y="1456.1" width="72.7" height="15.6" rx="4" ry="4" class="fr"/>
<text x="645.2" y="1469" class="e" textLength="46">Quotify</text>
<path d="M698.6 1461.4h6l-3 4.3z" fill="#7C5385"/>
<text x="691.62" y="1494" textLength="17" stroke="#7C5385">str</text>
<text x="714" y="1700" textLength="22" stroke="#B82D5F">join</text>
<g class="ic" transform="translate(687.5,1686.8)"><rect width="16" height="16" rx="4" ry="4"/><path d="M6.6 4.6L6.8 2.9L9.2 2.9L9.4 4.6L10.3 5.1L11.8 4.5L13 6.5L11.7 7.5L11.7 8.5L13 9.5L11.8 11.6L10.3 10.9L9.4 11.4L9.2 13.1L6.8 13.1L6.6 11.4L5.7 10.9L4.2 11.6L3 9.5L4.3 8.5L4.3 7.5L3 6.5L4.2 4.5L5.7 5.1ZM5.9 8a2.1 2.1 0 1 0 4.2 0a2.1 2.1 0 1 0 -4.2 0Z"/></g>
<text x="687" y="1777" textLength="171" stroke="#3F71B5">format as decimal number</text>
<text x="812.62" y="1803" textLength="43" stroke="#3F71B5">places</text>
<text x="687" y="1880" textLength="22" stroke="#7C5385">call</text>
<rect x="718.06" y="1867.1" width="71.5" height="15.6" rx="4" ry="4" class="fr"/>
<text x="723.06" y="1880" class="e" textLength="45">Clock1</text>
<path d="M775.46 1872.4h6l-3 4.3z" fill="#7C5385"/>
<text x="794.56" y="1880" textLength="115" stroke="#7C5385">.FormatDateTime</text>
<text x="864.84" y="1905" textLength="43" stroke="#7C5385">instant</text>
<text x="862.39" y="1931" textLength="45" stroke="#7C5385">pattern</text>
<text x="421.69" y="2205" textLength="119" stroke="#49A6D4">select list item  list</text>
<text x="510.44" y="2231" textLength="34" stroke="#49A6D4">index</text>
<text x="415.53" y="2282" textLength="119" stroke="#49A6D4">select list item  list</text>
<text x="504.28" y="2308" textLength="34" stroke="#49A6D4">index</text>
<rect x="410.53" y="2321.1" width="56.7" height="15.6" rx="4" ry="4" class="fr"/>
<text x="415.53" y="2334" class="e" textLength="31">false</text>
<path d="M453.93 2326.4h6l-3 4.3z" fill="#77AB41"/>
<text x="508.06" y="145" textLength="20" stroke="#D05F2D">get</text>
<rect x="533.45" y="132.1" width="66.1" height="15.6" rx="4" ry="4" class="fr"/>
<text x="538.45" y="145" class="e" textLength="40">usuari</text>
<path d="M585.85 137.4h6l-3 4.3z" fill="#D05F2D"/>
<rect x="503.06" y="158.1" width="18.16" height="15.6" rx="4" ry="4" class="fr"/>
<text x="508.06" y="171" class="e">3</text>
<text x="798.43" y="145" textLength="20" stroke="#D05F2D">get</text>
<rect x="823.82" y="132.1" width="66.1" height="15.6" rx="4" ry="4" class="fr"/>
<text x="828.82" y="145" class="e" textLength="40">usuari</text>
<path d="M876.22 137.4h6l-3 4.3z" fill="#D05F2D"/>
<rect x="793.43" y="158.1" width="18.16" height="15.6" rx="4" ry="4" class="fr"/>
<text x="798.43" y="171" class="e">4</text>
<text x="662.94" y="317" textLength="70" stroke="#49A6D4">make a list</text>
<g class="ic" transform="translate(636.44,303.8)"><rect width="16" height="16" rx="4" ry="4"/><path d="M6.6 4.6L6.8 2.9L9.2 2.9L9.4 4.6L10.3 5.1L11.8 4.5L13 6.5L11.7 7.5L11.7 8.5L13 9.5L11.8 11.6L10.3 10.9L9.4 11.4L9.2 13.1L6.8 13.1L6.6 11.4L5.7 10.9L4.2 11.6L3 9.5L4.3 8.5L4.3 7.5L3 6.5L4.2 4.5L5.7 5.1ZM5.9 8a2.1 2.1 0 1 0 4.2 0a2.1 2.1 0 1 0 -4.2 0Z"/></g>
<text x="662.94" y="369" textLength="70" stroke="#49A6D4">make a list</text>
<g class="ic" transform="translate(636.44,355.8)"><rect width="16" height="16" rx="4" ry="4"/><path d="M6.6 4.6L6.8 2.9L9.2 2.9L9.4 4.6L10.3 5.1L11.8 4.5L13 6.5L11.7 7.5L11.7 8.5L13 9.5L11.8 11.6L10.3 10.9L9.4 11.4L9.2 13.1L6.8 13.1L6.6 11.4L5.7 10.9L4.2 11.6L3 9.5L4.3 8.5L4.3 7.5L3 6.5L4.2 4.5L5.7 5.1ZM5.9 8a2.1 2.1 0 1 0 4.2 0a2.1 2.1 0 1 0 -4.2 0Z"/></g>
<text x="662.94" y="591" textLength="70" stroke="#49A6D4">make a list</text>
<g class="ic" transform="translate(636.44,577.8)"><rect width="16" height="16" rx="4" ry="4"/><path d="M6.6 4.6L6.8 2.9L9.2 2.9L9.4 4.6L10.3 5.1L11.8 4.5L13 6.5L11.7 7.5L11.7 8.5L13 9.5L11.8 11.6L10.3 10.9L9.4 11.4L9.2 13.1L6.8 13.1L6.6 11.4L5.7 10.9L4.2 11.6L3 9.5L4.3 8.5L4.3 7.5L3 6.5L4.2 4.5L5.7 5.1ZM5.9 8a2.1 2.1 0 1 0 4.2 0a2.1 2.1 0 1 0 -4.2 0Z"/></g>
<text x="662.94" y="643" textLength="70" stroke="#49A6D4">make a list</text>
<g class="ic" transform="translate(636.44,629.8)"><rect width="16" height="16" rx="4" ry="4"/><path d="M6.6 4.6L6.8 2.9L9.2 2.9L9.4 4.6L10.3 5.1L11.8 4.5L13 6.5L11.7 7.5L11.7 8.5L13 9.5L11.8 11.6L10.3 10.9L9.4 11.4L9.2 13.1L6.8 13.1L6.6 11.4L5.7 10.9L4.2 11.6L3 9.5L4.3 8.5L4.3 7.5L3 6.5L4.2 4.5L5.7 5.1ZM5.9 8a2.1 2.1 0 1 0 4.2 0a2.1 2.1 0 1 0 -4.2 0Z"/></g>
<text x="763.4" y="1236" textLength="22" stroke="#B82D5F">join</text>
<g class="ic" transform="translate(736.9,1222.8)"><rect width="16" height="16" rx="4" ry="4"/><path d="M6.6 4.6L6.8 2.9L9.2 2.9L9.4 4.6L10.3 5.1L11.8 4.5L13 6.5L11.7 7.5L11.7 8.5L13 9.5L11.8 11.6L10.3 10.9L9.4 11.4L9.2 13.1L6.8 13.1L6.6 11.4L5.7 10.9L4.2 11.6L3 9.5L4.3 8.5L4.3 7.5L3 6.5L4.2 4.5L5.7 5.1ZM5.9 8a2.1 2.1 0 1 0 4.2 0a2.1 2.1 0 1 0 -4.2 0Z"/></g>
<text x="736.4" y="1391" textLength="171" stroke="#3F71B5">format as decimal number</text>
<text x="862.03" y="1417" textLength="43" stroke="#3F71B5">places</text>
<text x="736.4" y="1494" textLength="22" stroke="#7C5385">call</text>
<rect x="767.46" y="1481.1" width="71.5" height="15.6" rx="4" ry="4" class="fr"/>
<text x="772.46" y="1494" class="e" textLength="45">Clock1</text>
<path d="M824.86 1486.4h6l-3 4.3z" fill="#7C5385"/>
<text x="843.96" y="1494" textLength="115" stroke="#7C5385">.FormatDateTime</text>
<text x="914.24" y="1519" textLength="43" stroke="#7C5385">instant</text>
<text x="911.79" y="1545" textLength="45" stroke="#7C5385">pattern</text>
<text x="765.31" y="1700" textLength="20" stroke="#D05F2D">get</text>
<rect x="790.7" y="1687.1" width="159.6" height="15.6" rx="4" ry="4" class="fr"/>
<text x="795.7" y="1700" class="e" textLength="135">global nom_despesa</text>
<path d="M938.1 1692.4h6l-3 4.3z" fill="#D05F2D"/>
<text x="883.5" y="1777" textLength="20" stroke="#D05F2D">get</text>
<rect x="908.89" y="1764.1" width="187.5" height="15.6" rx="4" ry="4" class="fr"/>
<text x="913.89" y="1777" class="e" textLength="161">global quantitat_despesa</text>
<path d="M1082.29 1769.4h6l-3 4.3z" fill="#D05F2D"/>
<rect x="878.5" y="1790.1" width="18.16" height="15.6" rx="4" ry="4" class="fr"/>
<text x="883.5" y="1803" class="e">2</text>
<text x="936.55" y="1905" textLength="22" stroke="#7C5385">call</text>
<rect x="967.61" y="1892.1" width="71.5" height="15.6" rx="4" ry="4" class="fr"/>
<text x="972.61" y="1905" class="e" textLength="45">Clock1</text>
<path d="M1025.01 1897.4h6l-3 4.3z" fill="#7C5385"/>
<text x="1044.11" y="1905" textLength="33" stroke="#7C5385">.Now</text>
<text x="936.55" y="1931" stroke="#B82D5F">"</text>
<rect x="945.95" y="1918.1" width="172" height="15.6" rx="4" ry="4" class="fr"/>
<text x="950.95" y="1931" class="e" textLength="156">MM/dd/yyyy hh:mm:ss a</text>
<text x="1122.95" y="1931" stroke="#B82D5F">"</text>
<text x="573.99" y="2205" textLength="20" stroke="#D05F2D">get</text>
<rect x="599.38" y="2192.1" width="175.4" height="15.6" rx="4" ry="4" class="fr"/>
<text x="604.38" y="2205" class="e" textLength="149">global llista_checkboxs</text>
<path d="M760.78 2197.4h6l-3 4.3z" fill="#D05F2D"/>
<text x="573.99" y="2231" textLength="20" stroke="#D05F2D">get</text>
<rect x="599.38" y="2218.1" width="73" height="15.6" rx="4" ry="4" class="fr"/>
<text x="604.38" y="2231" class="e" textLength="49.8">number</text>
<path d="M661.58 2223.4h6l-3 4.3z" fill="#D05F2D"/>
<text x="567.83" y="2282" textLength="20" stroke="#D05F2D">get</text>
<rect x="593.22" y="2269.1" width="175.4" height="15.6" rx="4" ry="4" class="fr"/>
<text x="598.22" y="2282" class="e" textLength="149">global llista_checkboxs</text>
<path d="M754.62 2274.4h6l-3 4.3z" fill="#D05F2D"/>
<text x="567.83" y="2308" textLength="20" stroke="#D05F2D">get</text>
<rect x="593.22" y="2295.1" width="73" height="15.6" rx="4" ry="4" class="fr"/>
<text x="598.22" y="2308" class="e" textLength="49.8">number</text>
<path d="M655.42 2300.4h6l-3 4.3z" fill="#D05F2D"/>
<text x="763.84" y="317" stroke="#B82D5F">"</text>
<rect x="773.24" y="304.1" width="203" height="15.6" rx="4" ry="4" class="fr"/>
<text x="778.24" y="317" class="e" textLength="194">android.intent.extra.SUBJECT</text>
<text x="981.24" y="317" stroke="#B82D5F">"</text>
<text x="763.84" y="343" stroke="#B82D5F">"</text>
<rect x="773.24" y="330.1" width="96" height="15.6" rx="4" ry="4" class="fr"/>
<text x="778.24" y="343" class="e" textLength="86">Pot de diners</text>
<text x="874.24" y="343" stroke="#B82D5F">"</text>
<text x="763.84" y="369" stroke="#B82D5F">"</text>
<rect x="773.24" y="356.1" width="171.5" height="15.6" rx="4" ry="4" class="fr"/>
<text x="778.24" y="369" class="e" textLength="164">android.intent.extra.TEXT</text>
<text x="949.74" y="369" stroke="#B82D5F">"</text>
<text x="790.84" y="395" textLength="22" stroke="#B82D5F">join</text>
<g class="ic" transform="translate(764.34,381.8)"><rect width="16" height="16" rx="4" ry="4"/><path d="M6.6 4.6L6.8 2.9L9.2 2.9L9.4 4.6L10.3 5.1L11.8 4.5L13 6.5L11.7 7.5L11.7 8.5L13 9.5L11.8 11.6L10.3 10.9L9.4 11.4L9.2 13.1L6.8 13.1L6.6 11.4L5.7 10.9L4.2 11.6L3 9.5L4.3 8.5L4.3 7.5L3 6.5L4.2 4.5L5.7 5.1ZM5.9 8a2.1 2.1 0 1 0 4.2 0a2.1 2.1 0 1 0 -4.2 0Z"/></g>
<text x="763.84" y="591" stroke="#B82D5F">"</text>
<rect x="773.24" y="578.1" width="203" height="15.6" rx="4" ry="4" class="fr"/>
<text x="778.24" y="591" class="e" textLength="194">android.intent.extra.SUBJECT</text>
<text x="981.24" y="591" stroke="#B82D5F">"</text>
<text x="763.84" y="617" stroke="#B82D5F">"</text>
<rect x="773.24" y="604.1" width="96" height="15.6" rx="4" ry="4" class="fr"/>
<text x="778.24" y="617" class="e" textLength="86">Pot de diners</text>
<text x="874.24" y="617" stroke="#B82D5F">"</text>
<text x="763.84" y="643" stroke="#B82D5F">"</text>
<rect x="773.24" y="630.1" width="171.5" height="15.6" rx="4" ry="4" class="fr"/>
<text x="778.24" y="643" class="e" textLength="164">android.intent.extra.TEXT</text>
<text x="949.74" y="643" stroke="#B82D5F">"</text>
<text x="790.84" y="669" textLength="22" stroke="#B82D5F">join</text>
<g class="ic" transform="translate(764.34,655.8)"><rect width="16" height="16" rx="4" ry="4"/><path d="M6.6 4.6L6.8 2.9L9.2 2.9L9.4 4.6L10.3 5.1L11.8 4.5L13 6.5L11.7 7.5L11.7 8.5L13 9.5L11.8 11.6L10.3 10.9L9.4 11.4L9.2 13.1L6.8 13.1L6.6 11.4L5.7 10.9L4.2 11.6L3 9.5L4.3 8.5L4.3 7.5L3 6.5L4.2 4.5L5.7 5.1ZM5.9 8a2.1 2.1 0 1 0 4.2 0a2.1 2.1 0 1 0 -4.2 0Z"/></g>
<text x="814.71" y="1236" textLength="20" stroke="#D05F2D">get</text>
<rect x="840.1" y="1223.1" width="159.6" height="15.6" rx="4" ry="4" class="fr"/>
<text x="845.1" y="1236" class="e" textLength="135">global nom_despesa</text>
<path d="M987.5 1228.4h6l-3 4.3z" fill="#D05F2D"/>
<text x="814.71" y="1262" stroke="#B82D5F">"</text>
<rect x="824.11" y="1249.1" width="14.9" height="15.6" rx="4" ry="4" class="fr"/>
<text x="829.11" y="1262" class="e">-</text>
<text x="844.01" y="1262" stroke="#B82D5F">"</text>
<text x="814.71" y="1288" textLength="119" stroke="#49A6D4">select list item  list</text>
<text x="903.47" y="1314" textLength="34" stroke="#49A6D4">index</text>
<text x="932.9" y="1391" textLength="20" stroke="#D05F2D">get</text>
<rect x="958.29" y="1378.1" width="187.5" height="15.6" rx="4" ry="4" class="fr"/>
<text x="963.29" y="1391" class="e" textLength="161">global quantitat_despesa</text>
<path d="M1131.69 1383.4h6l-3 4.3z" fill="#D05F2D"/>
<rect x="927.9" y="1404.1" width="18.16" height="15.6" rx="4" ry="4" class="fr"/>
<text x="932.9" y="1417" class="e">2</text>
<text x="985.95" y="1519" textLength="22" stroke="#7C5385">call</text>
<rect x="1017.01" y="1506.1" width="71.5" height="15.6" rx="4" ry="4" class="fr"/>
<text x="1022.01" y="1519" class="e" textLength="45">Clock1</text>
<path d="M1074.41 1511.4h6l-3 4.3z" fill="#7C5385"/>
<text x="1093.51" y="1519" textLength="33" stroke="#7C5385">.Now</text>
<text x="985.95" y="1545" stroke="#B82D5F">"</text>
<rect x="995.35" y="1532.1" width="172" height="15.6" rx="4" ry="4" class="fr"/>
<text x="1000.35" y="1545" class="e" textLength="156">MM/dd/yyyy hh:mm:ss a</text>
<text x="1172.35" y="1545" stroke="#B82D5F">"</text>
<text x="842.15" y="395" stroke="#B82D5F">"</text>
<rect x="851.55" y="382.1" width="181" height="15.6" rx="4" ry="4" class="fr"/>
<text x="856.55" y="395" class="e" textLength="170">Recorda que has de rebre</text>
<text x="1037.55" y="395" stroke="#B82D5F">"</text>
<text x="842.15" y="421" textLength="93" stroke="#B82D5F">replace all text</text>
<text x="880.45" y="447" textLength="57" stroke="#B82D5F">segment</text>
<text x="856.01" y="473" textLength="81" stroke="#B82D5F">replacement</text>
<text x="842.15" y="499" stroke="#B82D5F">"</text>
<rect x="851.55" y="486.1" width="74.7" height="15.6" rx="4" ry="4" class="fr"/>
<text x="860.55" y="499" class="e" textLength="59">€ del pot.</text>
<text x="931.25" y="499" stroke="#B82D5F">"</text>
<text x="842.15" y="669" stroke="#B82D5F">"</text>
<rect x="851.55" y="656.1" width="132.6" height="15.6" rx="4" ry="4" class="fr"/>
<text x="856.55" y="669" class="e" textLength="120">Recorda que deus</text>
<text x="989.15" y="669" stroke="#B82D5F">"</text>
<text x="842.15" y="695" textLength="93" stroke="#B82D5F">replace all text</text>
<text x="880.45" y="721" textLength="57" stroke="#B82D5F">segment</text>
<text x="856.01" y="747" textLength="81" stroke="#B82D5F">replacement</text>
<text x="842.15" y="773" stroke="#B82D5F">"</text>
<rect x="851.55" y="760.1" width="67.3" height="15.6" rx="4" ry="4" class="fr"/>
<text x="860.55" y="773" class="e" textLength="51">€ al pot.</text>
<text x="923.85" y="773" stroke="#B82D5F">"</text>
<text x="967.01" y="1288" textLength="20" stroke="#D05F2D">get</text>
<rect x="992.4" y="1275.1" width="110.6" height="15.6" rx="4" ry="4" class="fr"/>
<text x="997.4" y="1288" class="e" textLength="84">global Usuari</text>
<path d="M1088.8 1280.4h6l-3 4.3z" fill="#D05F2D"/>
<rect x="962.01" y="1301.1" width="18.16" height="15.6" rx="4" ry="4" class="fr"/>
<text x="967.01" y="1314" class="e">2</text>
<text x="965.18" y="421" textLength="20" stroke="#D05F2D">get</text>
<rect x="990.57" y="408.1" width="140" height="15.6" rx="4" ry="4" class="fr"/>
<text x="995.57" y="421" class="e" textLength="114">quantitat_retornar</text>
<path d="M1116.97 413.4h6l-3 4.3z" fill="#D05F2D"/>
<text x="965.18" y="447" stroke="#B82D5F">"</text>
<rect x="974.58" y="434.1" width="14.7" height="15.6" rx="4" ry="4" class="fr"/>
<text x="979.58" y="447" class="e">.</text>
<text x="994.28" y="447" stroke="#B82D5F">"</text>
<text x="965.18" y="473" stroke="#B82D5F">"</text>
<rect x="974.58" y="460.1" width="14.7" height="15.6" rx="4" ry="4" class="fr"/>
<text x="979.58" y="473" class="e">,</text>
<text x="994.28" y="473" stroke="#B82D5F">"</text>
<rect x="960.18" y="682.1" width="81.5" height="15.6" rx="4" ry="4" class="fr"/>
<text x="965.18" y="695" class="e" textLength="55">absolute</text>
<path d="M1027.58 687.4h6l-3 4.3z" fill="#3F71B5"/>
<text x="965.18" y="721" stroke="#B82D5F">"</text>
<rect x="974.58" y="708.1" width="14.7" height="15.6" rx="4" ry="4" class="fr"/>
<text x="979.58" y="721" class="e">.</text>
<text x="994.28" y="721" stroke="#B82D5F">"</text>
<text x="965.18" y="747" stroke="#B82D5F">"</text>
<rect x="974.58" y="734.1" width="14.7" height="15.6" rx="4" ry="4" class="fr"/>
<text x="979.58" y="747" class="e">,</text>
<text x="994.28" y="747" stroke="#B82D5F">"</text>
<text x="1065.18" y="695" textLength="20" stroke="#D05F2D">get</text>
<rect x="1090.57" y="682.1" width="140" height="15.6" rx="4" ry="4" class="fr"/>
<text x="1095.57" y="695" class="e" textLength="114">quantitat_retornar</text>
<path d="M1216.97 687.4h6l-3 4.3z" fill="#D05F2D"/>
</svg>
</body></html>
